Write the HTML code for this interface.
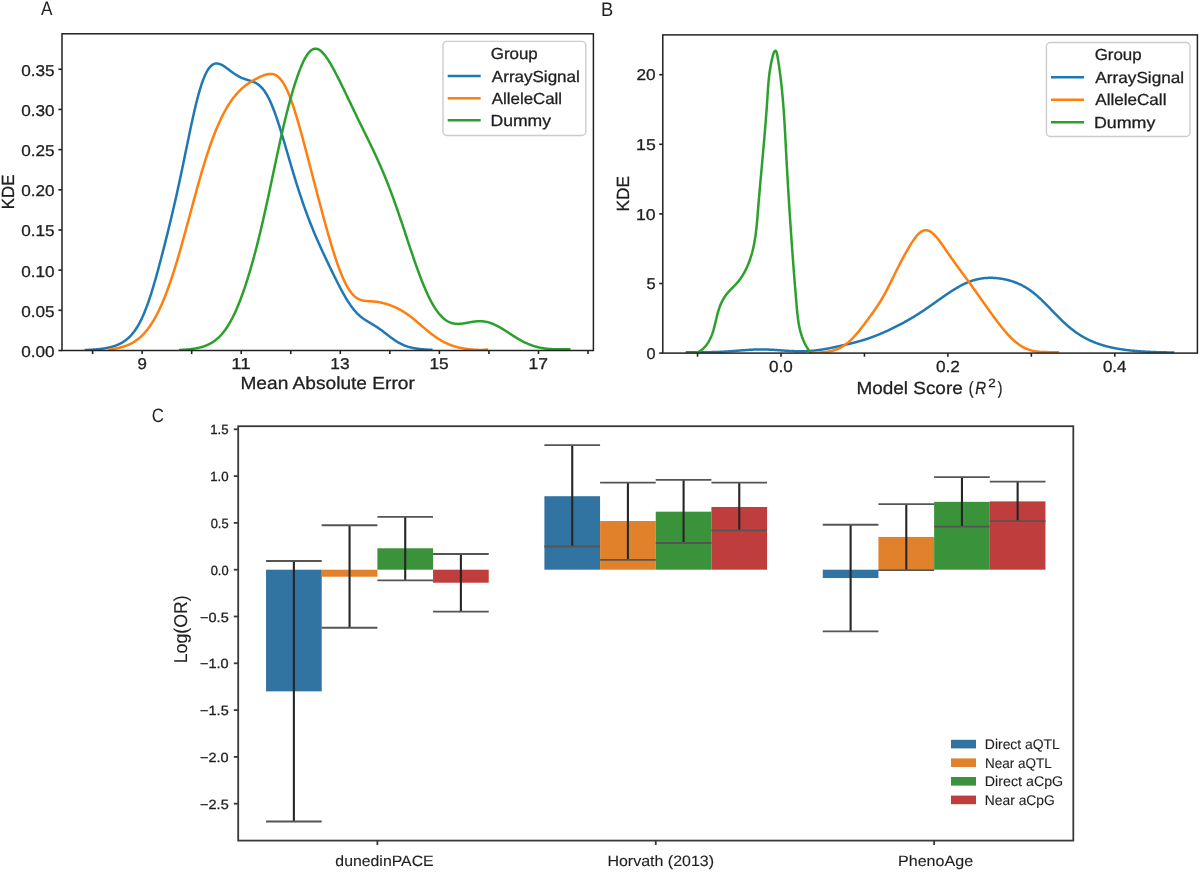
<!DOCTYPE html>
<html><head><meta charset="utf-8"><title>Figure</title>
<style>
html,body{margin:0;padding:0;background:#fff;}
body{width:1200px;height:872px;overflow:hidden;}
svg{display:block;font-family:"Liberation Sans", sans-serif;will-change:transform;text-rendering:geometricPrecision;}
</style></head>
<body>
<svg width="1200" height="872" viewBox="0 0 1200 872">
<rect width="1200" height="872" fill="#fff"/>
<clipPath id="ca"><rect x="62.0" y="33.8" width="531.4" height="316.7"/></clipPath>
<g clip-path="url(#ca)">
<path d="M84.60,350.05 L85.10,350.03 L85.60,350.02 L86.10,350.00 L86.60,349.98 L87.10,349.95 L87.60,349.93 L88.10,349.91 L88.60,349.89 L89.10,349.86 L89.60,349.84 L90.10,349.81 L90.60,349.78 L91.10,349.75 L91.60,349.72 L92.10,349.69 L92.60,349.66 L93.10,349.62 L93.60,349.59 L94.10,349.55 L94.60,349.52 L95.10,349.48 L95.60,349.44 L96.10,349.39 L96.60,349.35 L97.10,349.30 L97.60,349.26 L98.10,349.21 L98.60,349.15 L99.10,349.10 L99.60,349.05 L100.10,348.99 L100.60,348.93 L101.10,348.87 L101.60,348.80 L102.10,348.74 L102.60,348.67 L103.10,348.59 L103.60,348.52 L104.10,348.44 L104.60,348.36 L105.10,348.28 L105.60,348.19 L106.10,348.10 L106.60,348.01 L107.10,347.91 L107.60,347.81 L108.10,347.70 L108.60,347.60 L109.10,347.48 L109.60,347.37 L110.10,347.25 L110.60,347.12 L111.10,346.99 L111.60,346.86 L112.10,346.72 L112.60,346.57 L113.10,346.42 L113.60,346.27 L114.10,346.10 L114.60,345.94 L115.10,345.76 L115.60,345.58 L116.10,345.40 L116.60,345.20 L117.10,345.00 L117.60,344.80 L118.10,344.58 L118.60,344.36 L119.10,344.13 L119.60,343.89 L120.10,343.64 L120.60,343.38 L121.10,343.12 L121.60,342.84 L122.10,342.55 L122.60,342.26 L123.10,341.95 L123.60,341.63 L124.10,341.30 L124.60,340.96 L125.10,340.61 L125.60,340.24 L126.10,339.86 L126.60,339.47 L127.10,339.06 L127.60,338.64 L128.10,338.21 L128.60,337.75 L129.10,337.29 L129.60,336.80 L130.10,336.30 L130.60,335.78 L131.10,335.24 L131.60,334.69 L132.10,334.11 L132.60,333.52 L133.10,332.91 L133.60,332.27 L134.10,331.61 L134.60,330.94 L135.10,330.23 L135.60,329.51 L136.10,328.76 L136.60,327.99 L137.10,327.20 L137.60,326.38 L138.10,325.53 L138.60,324.66 L139.10,323.76 L139.60,322.83 L140.10,321.88 L140.60,320.90 L141.10,319.89 L141.60,318.86 L142.10,317.79 L142.60,316.70 L143.10,315.58 L143.60,314.43 L144.10,313.25 L144.60,312.05 L145.10,310.81 L145.60,309.55 L146.10,308.25 L146.60,306.93 L147.10,305.58 L147.60,304.20 L148.10,302.80 L148.60,301.36 L149.10,299.90 L149.60,298.42 L150.10,296.91 L150.60,295.37 L151.10,293.81 L151.60,292.22 L152.10,290.61 L152.60,288.98 L153.10,287.32 L153.60,285.65 L154.10,283.95 L154.60,282.23 L155.10,280.50 L155.60,278.74 L156.10,276.97 L156.60,275.18 L157.10,273.38 L157.60,271.56 L158.10,269.73 L158.60,267.88 L159.10,266.02 L159.60,264.15 L160.10,262.26 L160.60,260.37 L161.10,258.46 L161.60,256.54 L162.10,254.62 L162.60,252.68 L163.10,250.74 L163.60,248.79 L164.10,246.82 L164.60,244.85 L165.10,242.88 L165.60,240.89 L166.10,238.90 L166.60,236.89 L167.10,234.88 L167.60,232.86 L168.10,230.83 L168.60,228.80 L169.10,226.75 L169.60,224.69 L170.10,222.63 L170.60,220.55 L171.10,218.46 L171.60,216.36 L172.10,214.25 L172.60,212.13 L173.10,209.99 L173.60,207.84 L174.10,205.68 L174.60,203.51 L175.10,201.32 L175.60,199.12 L176.10,196.90 L176.60,194.67 L177.10,192.42 L177.60,190.16 L178.10,187.88 L178.60,185.59 L179.10,183.29 L179.60,180.97 L180.10,178.64 L180.60,176.29 L181.10,173.93 L181.60,171.56 L182.10,169.18 L182.60,166.79 L183.10,164.39 L183.60,161.98 L184.10,159.57 L184.60,157.14 L185.10,154.72 L185.60,152.29 L186.10,149.86 L186.60,147.43 L187.10,145.00 L187.60,142.57 L188.10,140.15 L188.60,137.74 L189.10,135.34 L189.60,132.94 L190.10,130.57 L190.60,128.20 L191.10,125.86 L191.60,123.53 L192.10,121.23 L192.60,118.95 L193.10,116.69 L193.60,114.47 L194.10,112.27 L194.60,110.11 L195.10,107.98 L195.60,105.89 L196.10,103.83 L196.60,101.82 L197.10,99.84 L197.60,97.92 L198.10,96.03 L198.60,94.20 L199.10,92.41 L199.60,90.67 L200.10,88.98 L200.60,87.34 L201.10,85.76 L201.60,84.23 L202.10,82.76 L202.60,81.34 L203.10,79.98 L203.60,78.67 L204.10,77.42 L204.60,76.23 L205.10,75.10 L205.60,74.02 L206.10,73.00 L206.60,72.04 L207.10,71.13 L207.60,70.28 L208.10,69.48 L208.60,68.74 L209.10,68.05 L209.60,67.42 L210.10,66.84 L210.60,66.31 L211.10,65.83 L211.60,65.40 L212.10,65.01 L212.60,64.67 L213.10,64.38 L213.60,64.13 L214.10,63.93 L214.60,63.76 L215.10,63.64 L215.60,63.55 L216.10,63.50 L216.60,63.48 L217.10,63.49 L217.60,63.54 L218.10,63.62 L218.60,63.72 L219.10,63.86 L219.60,64.01 L220.10,64.20 L220.60,64.40 L221.10,64.62 L221.60,64.87 L222.10,65.13 L222.60,65.41 L223.10,65.70 L223.60,66.00 L224.10,66.32 L224.60,66.65 L225.10,66.99 L225.60,67.34 L226.10,67.69 L226.60,68.05 L227.10,68.42 L227.60,68.79 L228.10,69.16 L228.60,69.53 L229.10,69.91 L229.60,70.28 L230.10,70.66 L230.60,71.03 L231.10,71.40 L231.60,71.77 L232.10,72.14 L232.60,72.50 L233.10,72.85 L233.60,73.20 L234.10,73.55 L234.60,73.88 L235.10,74.22 L235.60,74.54 L236.10,74.85 L236.60,75.16 L237.10,75.46 L237.60,75.75 L238.10,76.04 L238.60,76.31 L239.10,76.58 L239.60,76.84 L240.10,77.09 L240.60,77.33 L241.10,77.56 L241.60,77.78 L242.10,78.00 L242.60,78.20 L243.10,78.41 L243.60,78.60 L244.10,78.79 L244.60,78.97 L245.10,79.14 L245.60,79.31 L246.10,79.48 L246.60,79.64 L247.10,79.80 L247.60,79.96 L248.10,80.11 L248.60,80.27 L249.10,80.42 L249.60,80.58 L250.10,80.74 L250.60,80.90 L251.10,81.06 L251.60,81.24 L252.10,81.41 L252.60,81.60 L253.10,81.79 L253.60,82.00 L254.10,82.21 L254.60,82.44 L255.10,82.68 L255.60,82.93 L256.10,83.20 L256.60,83.49 L257.10,83.79 L257.60,84.12 L258.10,84.46 L258.60,84.83 L259.10,85.22 L259.60,85.63 L260.10,86.06 L260.60,86.53 L261.10,87.02 L261.60,87.53 L262.10,88.08 L262.60,88.65 L263.10,89.25 L263.60,89.89 L264.10,90.55 L264.60,91.25 L265.10,91.98 L265.60,92.74 L266.10,93.54 L266.60,94.36 L267.10,95.23 L267.60,96.12 L268.10,97.05 L268.60,98.02 L269.10,99.01 L269.60,100.04 L270.10,101.11 L270.60,102.21 L271.10,103.34 L271.60,104.50 L272.10,105.69 L272.60,106.92 L273.10,108.18 L273.60,109.46 L274.10,110.78 L274.60,112.12 L275.10,113.49 L275.60,114.89 L276.10,116.32 L276.60,117.77 L277.10,119.24 L277.60,120.74 L278.10,122.26 L278.60,123.79 L279.10,125.35 L279.60,126.93 L280.10,128.52 L280.60,130.13 L281.10,131.76 L281.60,133.40 L282.10,135.05 L282.60,136.71 L283.10,138.38 L283.60,140.06 L284.10,141.75 L284.60,143.45 L285.10,145.15 L285.60,146.86 L286.10,148.57 L286.60,150.28 L287.10,152.00 L287.60,153.71 L288.10,155.43 L288.60,157.14 L289.10,158.85 L289.60,160.56 L290.10,162.26 L290.60,163.96 L291.10,165.66 L291.60,167.35 L292.10,169.03 L292.60,170.70 L293.10,172.37 L293.60,174.03 L294.10,175.68 L294.60,177.32 L295.10,178.95 L295.60,180.58 L296.10,182.19 L296.60,183.79 L297.10,185.38 L297.60,186.96 L298.10,188.52 L298.60,190.08 L299.10,191.62 L299.60,193.15 L300.10,194.67 L300.60,196.18 L301.10,197.68 L301.60,199.16 L302.10,200.63 L302.60,202.09 L303.10,203.54 L303.60,204.97 L304.10,206.39 L304.60,207.80 L305.10,209.20 L305.60,210.59 L306.10,211.96 L306.60,213.32 L307.10,214.67 L307.60,216.01 L308.10,217.34 L308.60,218.65 L309.10,219.96 L309.60,221.25 L310.10,222.53 L310.60,223.80 L311.10,225.06 L311.60,226.31 L312.10,227.55 L312.60,228.78 L313.10,230.00 L313.60,231.22 L314.10,232.42 L314.60,233.61 L315.10,234.79 L315.60,235.97 L316.10,237.14 L316.60,238.30 L317.10,239.45 L317.60,240.59 L318.10,241.73 L318.60,242.86 L319.10,243.98 L319.60,245.10 L320.10,246.21 L320.60,247.31 L321.10,248.41 L321.60,249.50 L322.10,250.59 L322.60,251.68 L323.10,252.75 L323.60,253.83 L324.10,254.90 L324.60,255.97 L325.10,257.03 L325.60,258.09 L326.10,259.15 L326.60,260.20 L327.10,261.26 L327.60,262.30 L328.10,263.35 L328.60,264.39 L329.10,265.44 L329.60,266.48 L330.10,267.51 L330.60,268.55 L331.10,269.58 L331.60,270.61 L332.10,271.64 L332.60,272.66 L333.10,273.68 L333.60,274.70 L334.10,275.72 L334.60,276.73 L335.10,277.74 L335.60,278.75 L336.10,279.75 L336.60,280.75 L337.10,281.75 L337.60,282.73 L338.10,283.72 L338.60,284.70 L339.10,285.67 L339.60,286.63 L340.10,287.59 L340.60,288.54 L341.10,289.49 L341.60,290.42 L342.10,291.35 L342.60,292.27 L343.10,293.18 L343.60,294.08 L344.10,294.96 L344.60,295.84 L345.10,296.71 L345.60,297.56 L346.10,298.40 L346.60,299.23 L347.10,300.05 L347.60,300.85 L348.10,301.64 L348.60,302.42 L349.10,303.18 L349.60,303.93 L350.10,304.66 L350.60,305.37 L351.10,306.08 L351.60,306.76 L352.10,307.43 L352.60,308.09 L353.10,308.73 L353.60,309.35 L354.10,309.96 L354.60,310.55 L355.10,311.13 L355.60,311.69 L356.10,312.24 L356.60,312.77 L357.10,313.28 L357.60,313.79 L358.10,314.27 L358.60,314.75 L359.10,315.21 L359.60,315.65 L360.10,316.09 L360.60,316.51 L361.10,316.92 L361.60,317.32 L362.10,317.70 L362.60,318.08 L363.10,318.45 L363.60,318.80 L364.10,319.15 L364.60,319.50 L365.10,319.83 L365.60,320.16 L366.10,320.48 L366.60,320.80 L367.10,321.11 L367.60,321.41 L368.10,321.72 L368.60,322.02 L369.10,322.32 L369.60,322.61 L370.10,322.91 L370.60,323.21 L371.10,323.50 L371.60,323.80 L372.10,324.10 L372.60,324.39 L373.10,324.70 L373.60,325.00 L374.10,325.30 L374.60,325.61 L375.10,325.93 L375.60,326.24 L376.10,326.56 L376.60,326.89 L377.10,327.21 L377.60,327.55 L378.10,327.88 L378.60,328.23 L379.10,328.57 L379.60,328.92 L380.10,329.28 L380.60,329.64 L381.10,330.00 L381.60,330.36 L382.10,330.73 L382.60,331.11 L383.10,331.48 L383.60,331.86 L384.10,332.25 L384.60,332.63 L385.10,333.02 L385.60,333.40 L386.10,333.79 L386.60,334.18 L387.10,334.57 L387.60,334.96 L388.10,335.34 L388.60,335.73 L389.10,336.12 L389.60,336.50 L390.10,336.88 L390.60,337.26 L391.10,337.63 L391.60,338.00 L392.10,338.37 L392.60,338.73 L393.10,339.09 L393.60,339.44 L394.10,339.79 L394.60,340.13 L395.10,340.47 L395.60,340.80 L396.10,341.12 L396.60,341.44 L397.10,341.75 L397.60,342.05 L398.10,342.35 L398.60,342.64 L399.10,342.92 L399.60,343.19 L400.10,343.46 L400.60,343.72 L401.10,343.97 L401.60,344.21 L402.10,344.45 L402.60,344.68 L403.10,344.90 L403.60,345.12 L404.10,345.32 L404.60,345.52 L405.10,345.72 L405.60,345.90 L406.10,346.08 L406.60,346.26 L407.10,346.42 L407.60,346.58 L408.10,346.74 L408.60,346.88 L409.10,347.03 L409.60,347.16 L410.10,347.29 L410.60,347.42 L411.10,347.54 L411.60,347.65 L412.10,347.77 L412.60,347.87 L413.10,347.97 L413.60,348.07 L414.10,348.16 L414.60,348.25 L415.10,348.34 L415.60,348.42 L416.10,348.50 L416.60,348.57 L417.10,348.65 L417.60,348.72 L418.10,348.78 L418.60,348.84 L419.10,348.91 L419.60,348.96 L420.10,349.02 L420.60,349.07 L421.10,349.13 L421.60,349.17 L422.10,349.22 L422.60,349.27 L423.10,349.31 L423.60,349.35 L424.10,349.39 L424.60,349.43 L425.10,349.47 L425.60,349.51 L426.10,349.54 L426.60,349.57 L427.10,349.61 L427.60,349.64 L428.10,349.67 L428.60,349.70 L429.10,349.72 L429.60,349.75 L430.10,349.78 L430.60,349.80 L431.10,349.83 L431.60,349.85 L432.10,349.87 L432.60,349.89" fill="none" stroke="#1f77b4" stroke-width="2.5" stroke-linejoin="round" stroke-linecap="butt"/>
<path d="M108.00,349.47 L108.50,349.43 L109.00,349.37 L109.50,349.32 L110.00,349.27 L110.50,349.21 L111.00,349.15 L111.50,349.09 L112.00,349.02 L112.50,348.96 L113.00,348.89 L113.50,348.82 L114.00,348.74 L114.50,348.66 L115.00,348.58 L115.50,348.49 L116.00,348.41 L116.50,348.31 L117.00,348.22 L117.50,348.12 L118.00,348.02 L118.50,347.91 L119.00,347.80 L119.50,347.69 L120.00,347.57 L120.50,347.44 L121.00,347.31 L121.50,347.18 L122.00,347.04 L122.50,346.90 L123.00,346.75 L123.50,346.60 L124.00,346.44 L124.50,346.28 L125.00,346.11 L125.50,345.93 L126.00,345.75 L126.50,345.56 L127.00,345.37 L127.50,345.17 L128.00,344.96 L128.50,344.74 L129.00,344.52 L129.50,344.29 L130.00,344.05 L130.50,343.81 L131.00,343.56 L131.50,343.30 L132.00,343.03 L132.50,342.75 L133.00,342.46 L133.50,342.17 L134.00,341.87 L134.50,341.55 L135.00,341.23 L135.50,340.90 L136.00,340.55 L136.50,340.20 L137.00,339.84 L137.50,339.46 L138.00,339.08 L138.50,338.68 L139.00,338.28 L139.50,337.86 L140.00,337.43 L140.50,336.98 L141.00,336.53 L141.50,336.06 L142.00,335.58 L142.50,335.09 L143.00,334.59 L143.50,334.07 L144.00,333.53 L144.50,332.99 L145.00,332.43 L145.50,331.86 L146.00,331.27 L146.50,330.66 L147.00,330.05 L147.50,329.41 L148.00,328.76 L148.50,328.10 L149.00,327.42 L149.50,326.73 L150.00,326.02 L150.50,325.29 L151.00,324.54 L151.50,323.78 L152.00,323.01 L152.50,322.21 L153.00,321.40 L153.50,320.57 L154.00,319.73 L154.50,318.86 L155.00,317.98 L155.50,317.08 L156.00,316.16 L156.50,315.23 L157.00,314.28 L157.50,313.30 L158.00,312.31 L158.50,311.30 L159.00,310.28 L159.50,309.23 L160.00,308.16 L160.50,307.08 L161.00,305.98 L161.50,304.85 L162.00,303.71 L162.50,302.55 L163.00,301.37 L163.50,300.18 L164.00,298.96 L164.50,297.72 L165.00,296.47 L165.50,295.20 L166.00,293.90 L166.50,292.59 L167.00,291.26 L167.50,289.92 L168.00,288.55 L168.50,287.16 L169.00,285.76 L169.50,284.34 L170.00,282.90 L170.50,281.45 L171.00,279.97 L171.50,278.48 L172.00,276.98 L172.50,275.45 L173.00,273.91 L173.50,272.35 L174.00,270.78 L174.50,269.19 L175.00,267.59 L175.50,265.97 L176.00,264.34 L176.50,262.69 L177.00,261.03 L177.50,259.35 L178.00,257.67 L178.50,255.97 L179.00,254.25 L179.50,252.53 L180.00,250.79 L180.50,249.04 L181.00,247.28 L181.50,245.52 L182.00,243.74 L182.50,241.95 L183.00,240.16 L183.50,238.35 L184.00,236.54 L184.50,234.72 L185.00,232.90 L185.50,231.07 L186.00,229.23 L186.50,227.39 L187.00,225.55 L187.50,223.70 L188.00,221.85 L188.50,219.99 L189.00,218.14 L189.50,216.28 L190.00,214.42 L190.50,212.57 L191.00,210.71 L191.50,208.85 L192.00,207.00 L192.50,205.15 L193.00,203.30 L193.50,201.45 L194.00,199.61 L194.50,197.78 L195.00,195.95 L195.50,194.12 L196.00,192.30 L196.50,190.49 L197.00,188.69 L197.50,186.89 L198.00,185.10 L198.50,183.33 L199.00,181.56 L199.50,179.80 L200.00,178.05 L200.50,176.32 L201.00,174.59 L201.50,172.88 L202.00,171.18 L202.50,169.49 L203.00,167.82 L203.50,166.16 L204.00,164.52 L204.50,162.89 L205.00,161.27 L205.50,159.67 L206.00,158.09 L206.50,156.52 L207.00,154.97 L207.50,153.43 L208.00,151.91 L208.50,150.41 L209.00,148.93 L209.50,147.46 L210.00,146.01 L210.50,144.58 L211.00,143.16 L211.50,141.77 L212.00,140.39 L212.50,139.03 L213.00,137.69 L213.50,136.36 L214.00,135.06 L214.50,133.77 L215.00,132.50 L215.50,131.25 L216.00,130.02 L216.50,128.81 L217.00,127.61 L217.50,126.44 L218.00,125.28 L218.50,124.14 L219.00,123.01 L219.50,121.91 L220.00,120.82 L220.50,119.75 L221.00,118.70 L221.50,117.67 L222.00,116.65 L222.50,115.65 L223.00,114.67 L223.50,113.71 L224.00,112.76 L224.50,111.83 L225.00,110.91 L225.50,110.01 L226.00,109.13 L226.50,108.26 L227.00,107.41 L227.50,106.58 L228.00,105.76 L228.50,104.95 L229.00,104.17 L229.50,103.39 L230.00,102.63 L230.50,101.89 L231.00,101.16 L231.50,100.45 L232.00,99.75 L232.50,99.06 L233.00,98.39 L233.50,97.73 L234.00,97.08 L234.50,96.45 L235.00,95.83 L235.50,95.23 L236.00,94.64 L236.50,94.06 L237.00,93.49 L237.50,92.94 L238.00,92.39 L238.50,91.86 L239.00,91.35 L239.50,90.84 L240.00,90.34 L240.50,89.86 L241.00,89.39 L241.50,88.92 L242.00,88.47 L242.50,88.03 L243.00,87.60 L243.50,87.17 L244.00,86.76 L244.50,86.36 L245.00,85.96 L245.50,85.57 L246.00,85.19 L246.50,84.82 L247.00,84.46 L247.50,84.10 L248.00,83.76 L248.50,83.41 L249.00,83.08 L249.50,82.75 L250.00,82.43 L250.50,82.11 L251.00,81.80 L251.50,81.49 L252.00,81.19 L252.50,80.89 L253.00,80.60 L253.50,80.31 L254.00,80.02 L254.50,79.74 L255.00,79.47 L255.50,79.19 L256.00,78.93 L256.50,78.66 L257.00,78.40 L257.50,78.14 L258.00,77.89 L258.50,77.64 L259.00,77.39 L259.50,77.15 L260.00,76.92 L260.50,76.68 L261.00,76.46 L261.50,76.24 L262.00,76.02 L262.50,75.81 L263.00,75.61 L263.50,75.42 L264.00,75.23 L264.50,75.05 L265.00,74.89 L265.50,74.73 L266.00,74.58 L266.50,74.44 L267.00,74.32 L267.50,74.21 L268.00,74.11 L268.50,74.03 L269.00,73.97 L269.50,73.92 L270.00,73.89 L270.50,73.88 L271.00,73.89 L271.50,73.92 L272.00,73.97 L272.50,74.04 L273.00,74.14 L273.50,74.27 L274.00,74.42 L274.50,74.59 L275.00,74.80 L275.50,75.03 L276.00,75.30 L276.50,75.59 L277.00,75.92 L277.50,76.28 L278.00,76.67 L278.50,77.10 L279.00,77.56 L279.50,78.05 L280.00,78.59 L280.50,79.15 L281.00,79.76 L281.50,80.40 L282.00,81.08 L282.50,81.80 L283.00,82.56 L283.50,83.36 L284.00,84.19 L284.50,85.06 L285.00,85.97 L285.50,86.92 L286.00,87.91 L286.50,88.93 L287.00,89.99 L287.50,91.09 L288.00,92.23 L288.50,93.40 L289.00,94.61 L289.50,95.85 L290.00,97.13 L290.50,98.44 L291.00,99.79 L291.50,101.16 L292.00,102.57 L292.50,104.01 L293.00,105.48 L293.50,106.97 L294.00,108.50 L294.50,110.05 L295.00,111.62 L295.50,113.23 L296.00,114.85 L296.50,116.50 L297.00,118.17 L297.50,119.86 L298.00,121.57 L298.50,123.29 L299.00,125.04 L299.50,126.80 L300.00,128.58 L300.50,130.37 L301.00,132.18 L301.50,134.00 L302.00,135.83 L302.50,137.67 L303.00,139.52 L303.50,141.38 L304.00,143.25 L304.50,145.13 L305.00,147.01 L305.50,148.90 L306.00,150.80 L306.50,152.70 L307.00,154.61 L307.50,156.52 L308.00,158.43 L308.50,160.35 L309.00,162.27 L309.50,164.19 L310.00,166.11 L310.50,168.03 L311.00,169.95 L311.50,171.88 L312.00,173.80 L312.50,175.72 L313.00,177.64 L313.50,179.56 L314.00,181.48 L314.50,183.40 L315.00,185.32 L315.50,187.23 L316.00,189.14 L316.50,191.05 L317.00,192.95 L317.50,194.85 L318.00,196.75 L318.50,198.65 L319.00,200.54 L319.50,202.42 L320.00,204.30 L320.50,206.18 L321.00,208.05 L321.50,209.91 L322.00,211.77 L322.50,213.63 L323.00,215.47 L323.50,217.31 L324.00,219.14 L324.50,220.97 L325.00,222.78 L325.50,224.59 L326.00,226.39 L326.50,228.18 L327.00,229.96 L327.50,231.73 L328.00,233.48 L328.50,235.23 L329.00,236.96 L329.50,238.68 L330.00,240.39 L330.50,242.08 L331.00,243.76 L331.50,245.43 L332.00,247.08 L332.50,248.71 L333.00,250.32 L333.50,251.92 L334.00,253.50 L334.50,255.06 L335.00,256.60 L335.50,258.13 L336.00,259.63 L336.50,261.11 L337.00,262.56 L337.50,264.00 L338.00,265.41 L338.50,266.80 L339.00,268.16 L339.50,269.50 L340.00,270.81 L340.50,272.10 L341.00,273.36 L341.50,274.59 L342.00,275.80 L342.50,276.98 L343.00,278.12 L343.50,279.24 L344.00,280.33 L344.50,281.40 L345.00,282.43 L345.50,283.43 L346.00,284.40 L346.50,285.34 L347.00,286.24 L347.50,287.12 L348.00,287.97 L348.50,288.78 L349.00,289.57 L349.50,290.32 L350.00,291.05 L350.50,291.74 L351.00,292.40 L351.50,293.03 L352.00,293.63 L352.50,294.21 L353.00,294.75 L353.50,295.26 L354.00,295.75 L354.50,296.21 L355.00,296.64 L355.50,297.05 L356.00,297.43 L356.50,297.79 L357.00,298.12 L357.50,298.43 L358.00,298.71 L358.50,298.98 L359.00,299.22 L359.50,299.44 L360.00,299.65 L360.50,299.83 L361.00,300.01 L361.50,300.16 L362.00,300.30 L362.50,300.42 L363.00,300.54 L363.50,300.64 L364.00,300.73 L364.50,300.81 L365.00,300.88 L365.50,300.94 L366.00,300.99 L366.50,301.04 L367.00,301.09 L367.50,301.12 L368.00,301.16 L368.50,301.19 L369.00,301.22 L369.50,301.25 L370.00,301.28 L370.50,301.31 L371.00,301.33 L371.50,301.36 L372.00,301.39 L372.50,301.43 L373.00,301.46 L373.50,301.50 L374.00,301.54 L374.50,301.59 L375.00,301.64 L375.50,301.69 L376.00,301.75 L376.50,301.81 L377.00,301.87 L377.50,301.94 L378.00,302.02 L378.50,302.10 L379.00,302.19 L379.50,302.28 L380.00,302.37 L380.50,302.47 L381.00,302.58 L381.50,302.68 L382.00,302.80 L382.50,302.92 L383.00,303.04 L383.50,303.17 L384.00,303.30 L384.50,303.44 L385.00,303.58 L385.50,303.72 L386.00,303.87 L386.50,304.02 L387.00,304.18 L387.50,304.34 L388.00,304.51 L388.50,304.68 L389.00,304.85 L389.50,305.02 L390.00,305.20 L390.50,305.39 L391.00,305.58 L391.50,305.77 L392.00,305.96 L392.50,306.16 L393.00,306.37 L393.50,306.58 L394.00,306.79 L394.50,307.01 L395.00,307.23 L395.50,307.45 L396.00,307.68 L396.50,307.92 L397.00,308.16 L397.50,308.40 L398.00,308.65 L398.50,308.90 L399.00,309.16 L399.50,309.43 L400.00,309.70 L400.50,309.97 L401.00,310.25 L401.50,310.54 L402.00,310.83 L402.50,311.12 L403.00,311.43 L403.50,311.73 L404.00,312.05 L404.50,312.36 L405.00,312.69 L405.50,313.02 L406.00,313.35 L406.50,313.69 L407.00,314.04 L407.50,314.39 L408.00,314.74 L408.50,315.10 L409.00,315.47 L409.50,315.84 L410.00,316.21 L410.50,316.59 L411.00,316.97 L411.50,317.36 L412.00,317.75 L412.50,318.15 L413.00,318.55 L413.50,318.95 L414.00,319.36 L414.50,319.77 L415.00,320.18 L415.50,320.59 L416.00,321.01 L416.50,321.43 L417.00,321.85 L417.50,322.28 L418.00,322.70 L418.50,323.13 L419.00,323.55 L419.50,323.98 L420.00,324.41 L420.50,324.84 L421.00,325.27 L421.50,325.70 L422.00,326.13 L422.50,326.56 L423.00,326.98 L423.50,327.41 L424.00,327.84 L424.50,328.26 L425.00,328.68 L425.50,329.11 L426.00,329.52 L426.50,329.94 L427.00,330.36 L427.50,330.77 L428.00,331.18 L428.50,331.58 L429.00,331.99 L429.50,332.39 L430.00,332.78 L430.50,333.18 L431.00,333.57 L431.50,333.95 L432.00,334.33 L432.50,334.71 L433.00,335.08 L433.50,335.45 L434.00,335.82 L434.50,336.18 L435.00,336.53 L435.50,336.88 L436.00,337.23 L436.50,337.57 L437.00,337.90 L437.50,338.23 L438.00,338.56 L438.50,338.88 L439.00,339.19 L439.50,339.50 L440.00,339.81 L440.50,340.11 L441.00,340.40 L441.50,340.69 L442.00,340.97 L442.50,341.25 L443.00,341.52 L443.50,341.79 L444.00,342.05 L444.50,342.31 L445.00,342.56 L445.50,342.80 L446.00,343.04 L446.50,343.28 L447.00,343.50 L447.50,343.73 L448.00,343.95 L448.50,344.16 L449.00,344.37 L449.50,344.57 L450.00,344.77 L450.50,344.96 L451.00,345.15 L451.50,345.34 L452.00,345.51 L452.50,345.69 L453.00,345.86 L453.50,346.02 L454.00,346.18 L454.50,346.34 L455.00,346.49 L455.50,346.64 L456.00,346.78 L456.50,346.92 L457.00,347.05 L457.50,347.18 L458.00,347.31 L458.50,347.43 L459.00,347.55 L459.50,347.66 L460.00,347.77 L460.50,347.88 L461.00,347.99 L461.50,348.09 L462.00,348.18 L462.50,348.28 L463.00,348.37 L463.50,348.46 L464.00,348.54 L464.50,348.62 L465.00,348.70 L465.50,348.78 L466.00,348.85 L466.50,348.92 L467.00,348.99 L467.50,349.05 L468.00,349.11 L468.50,349.17 L469.00,349.23 L469.50,349.29 L470.00,349.34 L470.50,349.39 L471.00,349.44 L471.50,349.48 L472.00,349.53 L472.50,349.57 L473.00,349.61 L473.50,349.65 L474.00,349.68 L474.50,349.71 L475.00,349.74 L475.50,349.77 L476.00,349.80 L476.50,349.82 L477.00,349.84 L477.50,349.86 L478.00,349.88 L478.50,349.89 L479.00,349.90 L479.50,349.91 L480.00,349.91 L480.50,349.91 L481.00,349.91 L481.50,349.90 L482.00,349.89 L482.50,349.88 L483.00,349.86 L483.50,349.83 L484.00,349.80 L484.50,349.76 L485.00,349.72 L485.50,349.67 L486.00,349.61 L486.50,349.55 L487.00,349.48 L487.50,349.39 L488.00,349.30" fill="none" stroke="#ff7f0e" stroke-width="2.5" stroke-linejoin="round" stroke-linecap="butt"/>
<path d="M179.00,350.04 L179.50,350.02 L180.00,349.99 L180.50,349.97 L181.00,349.95 L181.50,349.92 L182.00,349.89 L182.50,349.86 L183.00,349.83 L183.50,349.80 L184.00,349.77 L184.50,349.73 L185.00,349.70 L185.50,349.66 L186.00,349.62 L186.50,349.58 L187.00,349.54 L187.50,349.49 L188.00,349.45 L188.50,349.40 L189.00,349.35 L189.50,349.29 L190.00,349.24 L190.50,349.18 L191.00,349.12 L191.50,349.06 L192.00,348.99 L192.50,348.93 L193.00,348.86 L193.50,348.78 L194.00,348.71 L194.50,348.63 L195.00,348.54 L195.50,348.46 L196.00,348.37 L196.50,348.27 L197.00,348.17 L197.50,348.07 L198.00,347.97 L198.50,347.86 L199.00,347.74 L199.50,347.62 L200.00,347.50 L200.50,347.37 L201.00,347.23 L201.50,347.10 L202.00,346.95 L202.50,346.80 L203.00,346.64 L203.50,346.48 L204.00,346.31 L204.50,346.14 L205.00,345.95 L205.50,345.76 L206.00,345.57 L206.50,345.36 L207.00,345.15 L207.50,344.93 L208.00,344.70 L208.50,344.47 L209.00,344.22 L209.50,343.97 L210.00,343.71 L210.50,343.44 L211.00,343.15 L211.50,342.86 L212.00,342.56 L212.50,342.25 L213.00,341.92 L213.50,341.59 L214.00,341.24 L214.50,340.88 L215.00,340.51 L215.50,340.13 L216.00,339.74 L216.50,339.33 L217.00,338.91 L217.50,338.47 L218.00,338.03 L218.50,337.56 L219.00,337.09 L219.50,336.59 L220.00,336.09 L220.50,335.56 L221.00,335.03 L221.50,334.47 L222.00,333.90 L222.50,333.32 L223.00,332.71 L223.50,332.09 L224.00,331.46 L224.50,330.80 L225.00,330.13 L225.50,329.44 L226.00,328.73 L226.50,328.00 L227.00,327.25 L227.50,326.49 L228.00,325.70 L228.50,324.90 L229.00,324.07 L229.50,323.23 L230.00,322.37 L230.50,321.48 L231.00,320.58 L231.50,319.66 L232.00,318.71 L232.50,317.75 L233.00,316.76 L233.50,315.75 L234.00,314.73 L234.50,313.68 L235.00,312.61 L235.50,311.52 L236.00,310.41 L236.50,309.27 L237.00,308.12 L237.50,306.94 L238.00,305.75 L238.50,304.53 L239.00,303.29 L239.50,302.04 L240.00,300.76 L240.50,299.45 L241.00,298.13 L241.50,296.79 L242.00,295.43 L242.50,294.04 L243.00,292.64 L243.50,291.22 L244.00,289.77 L244.50,288.31 L245.00,286.82 L245.50,285.32 L246.00,283.79 L246.50,282.24 L247.00,280.68 L247.50,279.09 L248.00,277.49 L248.50,275.86 L249.00,274.22 L249.50,272.56 L250.00,270.87 L250.50,269.17 L251.00,267.45 L251.50,265.71 L252.00,263.95 L252.50,262.17 L253.00,260.37 L253.50,258.55 L254.00,256.71 L254.50,254.85 L255.00,252.98 L255.50,251.08 L256.00,249.17 L256.50,247.24 L257.00,245.29 L257.50,243.32 L258.00,241.33 L258.50,239.32 L259.00,237.29 L259.50,235.25 L260.00,233.19 L260.50,231.10 L261.00,229.01 L261.50,226.89 L262.00,224.76 L262.50,222.61 L263.00,220.44 L263.50,218.26 L264.00,216.06 L264.50,213.84 L265.00,211.61 L265.50,209.37 L266.00,207.11 L266.50,204.84 L267.00,202.56 L267.50,200.26 L268.00,197.95 L268.50,195.64 L269.00,193.31 L269.50,190.97 L270.00,188.63 L270.50,186.28 L271.00,183.93 L271.50,181.57 L272.00,179.20 L272.50,176.84 L273.00,174.47 L273.50,172.10 L274.00,169.74 L274.50,167.37 L275.00,165.01 L275.50,162.65 L276.00,160.30 L276.50,157.95 L277.00,155.62 L277.50,153.29 L278.00,150.97 L278.50,148.66 L279.00,146.37 L279.50,144.09 L280.00,141.82 L280.50,139.57 L281.00,137.33 L281.50,135.12 L282.00,132.91 L282.50,130.73 L283.00,128.57 L283.50,126.43 L284.00,124.31 L284.50,122.20 L285.00,120.13 L285.50,118.07 L286.00,116.03 L286.50,114.02 L287.00,112.04 L287.50,110.07 L288.00,108.13 L288.50,106.22 L289.00,104.32 L289.50,102.46 L290.00,100.62 L290.50,98.80 L291.00,97.01 L291.50,95.24 L292.00,93.50 L292.50,91.79 L293.00,90.10 L293.50,88.44 L294.00,86.80 L294.50,85.20 L295.00,83.61 L295.50,82.06 L296.00,80.53 L296.50,79.03 L297.00,77.56 L297.50,76.12 L298.00,74.71 L298.50,73.33 L299.00,71.98 L299.50,70.66 L300.00,69.37 L300.50,68.11 L301.00,66.89 L301.50,65.70 L302.00,64.54 L302.50,63.43 L303.00,62.34 L303.50,61.30 L304.00,60.29 L304.50,59.31 L305.00,58.38 L305.50,57.49 L306.00,56.64 L306.50,55.83 L307.00,55.06 L307.50,54.33 L308.00,53.65 L308.50,53.01 L309.00,52.41 L309.50,51.86 L310.00,51.35 L310.50,50.88 L311.00,50.47 L311.50,50.09 L312.00,49.76 L312.50,49.48 L313.00,49.24 L313.50,49.04 L314.00,48.89 L314.50,48.78 L315.00,48.72 L315.50,48.70 L316.00,48.72 L316.50,48.78 L317.00,48.89 L317.50,49.03 L318.00,49.22 L318.50,49.44 L319.00,49.70 L319.50,50.00 L320.00,50.33 L320.50,50.70 L321.00,51.10 L321.50,51.54 L322.00,52.00 L322.50,52.50 L323.00,53.03 L323.50,53.58 L324.00,54.16 L324.50,54.77 L325.00,55.40 L325.50,56.06 L326.00,56.74 L326.50,57.44 L327.00,58.17 L327.50,58.91 L328.00,59.67 L328.50,60.45 L329.00,61.25 L329.50,62.06 L330.00,62.89 L330.50,63.73 L331.00,64.59 L331.50,65.46 L332.00,66.34 L332.50,67.23 L333.00,68.14 L333.50,69.05 L334.00,69.97 L334.50,70.91 L335.00,71.85 L335.50,72.80 L336.00,73.76 L336.50,74.72 L337.00,75.70 L337.50,76.67 L338.00,77.66 L338.50,78.65 L339.00,79.64 L339.50,80.65 L340.00,81.65 L340.50,82.66 L341.00,83.67 L341.50,84.69 L342.00,85.71 L342.50,86.74 L343.00,87.76 L343.50,88.79 L344.00,89.82 L344.50,90.86 L345.00,91.90 L345.50,92.93 L346.00,93.97 L346.50,95.02 L347.00,96.06 L347.50,97.10 L348.00,98.15 L348.50,99.19 L349.00,100.24 L349.50,101.28 L350.00,102.33 L350.50,103.37 L351.00,104.42 L351.50,105.46 L352.00,106.51 L352.50,107.55 L353.00,108.59 L353.50,109.64 L354.00,110.68 L354.50,111.72 L355.00,112.76 L355.50,113.79 L356.00,114.83 L356.50,115.87 L357.00,116.90 L357.50,117.93 L358.00,118.96 L358.50,119.99 L359.00,121.02 L359.50,122.05 L360.00,123.08 L360.50,124.10 L361.00,125.13 L361.50,126.15 L362.00,127.17 L362.50,128.19 L363.00,129.21 L363.50,130.23 L364.00,131.25 L364.50,132.27 L365.00,133.29 L365.50,134.31 L366.00,135.33 L366.50,136.35 L367.00,137.37 L367.50,138.40 L368.00,139.42 L368.50,140.44 L369.00,141.47 L369.50,142.50 L370.00,143.53 L370.50,144.56 L371.00,145.60 L371.50,146.64 L372.00,147.68 L372.50,148.73 L373.00,149.77 L373.50,150.83 L374.00,151.89 L374.50,152.95 L375.00,154.02 L375.50,155.09 L376.00,156.17 L376.50,157.25 L377.00,158.34 L377.50,159.44 L378.00,160.54 L378.50,161.65 L379.00,162.76 L379.50,163.89 L380.00,165.02 L380.50,166.16 L381.00,167.30 L381.50,168.46 L382.00,169.62 L382.50,170.79 L383.00,171.97 L383.50,173.16 L384.00,174.36 L384.50,175.57 L385.00,176.78 L385.50,178.01 L386.00,179.24 L386.50,180.49 L387.00,181.74 L387.50,183.01 L388.00,184.28 L388.50,185.56 L389.00,186.86 L389.50,188.16 L390.00,189.47 L390.50,190.79 L391.00,192.12 L391.50,193.46 L392.00,194.81 L392.50,196.17 L393.00,197.54 L393.50,198.91 L394.00,200.30 L394.50,201.69 L395.00,203.10 L395.50,204.51 L396.00,205.92 L396.50,207.35 L397.00,208.78 L397.50,210.23 L398.00,211.67 L398.50,213.13 L399.00,214.59 L399.50,216.06 L400.00,217.53 L400.50,219.01 L401.00,220.49 L401.50,221.97 L402.00,223.47 L402.50,224.96 L403.00,226.46 L403.50,227.96 L404.00,229.46 L404.50,230.97 L405.00,232.48 L405.50,233.99 L406.00,235.49 L406.50,237.00 L407.00,238.51 L407.50,240.02 L408.00,241.53 L408.50,243.03 L409.00,244.54 L409.50,246.04 L410.00,247.53 L410.50,249.03 L411.00,250.52 L411.50,252.00 L412.00,253.48 L412.50,254.96 L413.00,256.42 L413.50,257.88 L414.00,259.34 L414.50,260.78 L415.00,262.22 L415.50,263.65 L416.00,265.07 L416.50,266.48 L417.00,267.88 L417.50,269.27 L418.00,270.64 L418.50,272.01 L419.00,273.36 L419.50,274.70 L420.00,276.03 L420.50,277.35 L421.00,278.65 L421.50,279.94 L422.00,281.21 L422.50,282.47 L423.00,283.71 L423.50,284.94 L424.00,286.15 L424.50,287.34 L425.00,288.52 L425.50,289.68 L426.00,290.82 L426.50,291.94 L427.00,293.05 L427.50,294.14 L428.00,295.21 L428.50,296.26 L429.00,297.29 L429.50,298.30 L430.00,299.30 L430.50,300.27 L431.00,301.22 L431.50,302.16 L432.00,303.07 L432.50,303.96 L433.00,304.83 L433.50,305.69 L434.00,306.52 L434.50,307.33 L435.00,308.12 L435.50,308.89 L436.00,309.63 L436.50,310.36 L437.00,311.07 L437.50,311.75 L438.00,312.42 L438.50,313.06 L439.00,313.68 L439.50,314.29 L440.00,314.87 L440.50,315.43 L441.00,315.97 L441.50,316.49 L442.00,316.99 L442.50,317.47 L443.00,317.93 L443.50,318.37 L444.00,318.80 L444.50,319.20 L445.00,319.58 L445.50,319.95 L446.00,320.29 L446.50,320.62 L447.00,320.93 L447.50,321.22 L448.00,321.50 L448.50,321.76 L449.00,322.00 L449.50,322.22 L450.00,322.43 L450.50,322.62 L451.00,322.80 L451.50,322.96 L452.00,323.11 L452.50,323.24 L453.00,323.36 L453.50,323.47 L454.00,323.56 L454.50,323.64 L455.00,323.71 L455.50,323.77 L456.00,323.81 L456.50,323.85 L457.00,323.87 L457.50,323.88 L458.00,323.88 L458.50,323.88 L459.00,323.86 L459.50,323.84 L460.00,323.81 L460.50,323.77 L461.00,323.73 L461.50,323.68 L462.00,323.62 L462.50,323.56 L463.00,323.49 L463.50,323.42 L464.00,323.34 L464.50,323.26 L465.00,323.18 L465.50,323.09 L466.00,323.00 L466.50,322.91 L467.00,322.82 L467.50,322.73 L468.00,322.64 L468.50,322.54 L469.00,322.45 L469.50,322.36 L470.00,322.27 L470.50,322.18 L471.00,322.09 L471.50,322.00 L472.00,321.92 L472.50,321.84 L473.00,321.76 L473.50,321.69 L474.00,321.62 L474.50,321.55 L475.00,321.49 L475.50,321.44 L476.00,321.39 L476.50,321.34 L477.00,321.30 L477.50,321.27 L478.00,321.24 L478.50,321.22 L479.00,321.21 L479.50,321.20 L480.00,321.20 L480.50,321.20 L481.00,321.22 L481.50,321.24 L482.00,321.27 L482.50,321.31 L483.00,321.35 L483.50,321.40 L484.00,321.46 L484.50,321.53 L485.00,321.61 L485.50,321.69 L486.00,321.79 L486.50,321.89 L487.00,322.00 L487.50,322.11 L488.00,322.24 L488.50,322.37 L489.00,322.52 L489.50,322.67 L490.00,322.82 L490.50,322.99 L491.00,323.16 L491.50,323.34 L492.00,323.53 L492.50,323.73 L493.00,323.93 L493.50,324.14 L494.00,324.36 L494.50,324.58 L495.00,324.81 L495.50,325.05 L496.00,325.29 L496.50,325.54 L497.00,325.79 L497.50,326.05 L498.00,326.32 L498.50,326.59 L499.00,326.87 L499.50,327.15 L500.00,327.43 L500.50,327.72 L501.00,328.02 L501.50,328.31 L502.00,328.62 L502.50,328.92 L503.00,329.23 L503.50,329.54 L504.00,329.85 L504.50,330.17 L505.00,330.49 L505.50,330.80 L506.00,331.13 L506.50,331.45 L507.00,331.77 L507.50,332.10 L508.00,332.42 L508.50,332.75 L509.00,333.08 L509.50,333.40 L510.00,333.73 L510.50,334.05 L511.00,334.38 L511.50,334.70 L512.00,335.03 L512.50,335.35 L513.00,335.67 L513.50,335.99 L514.00,336.30 L514.50,336.62 L515.00,336.93 L515.50,337.24 L516.00,337.55 L516.50,337.85 L517.00,338.16 L517.50,338.45 L518.00,338.75 L518.50,339.04 L519.00,339.33 L519.50,339.62 L520.00,339.90 L520.50,340.18 L521.00,340.46 L521.50,340.73 L522.00,340.99 L522.50,341.26 L523.00,341.52 L523.50,341.77 L524.00,342.02 L524.50,342.27 L525.00,342.51 L525.50,342.75 L526.00,342.98 L526.50,343.21 L527.00,343.43 L527.50,343.65 L528.00,343.87 L528.50,344.08 L529.00,344.28 L529.50,344.48 L530.00,344.68 L530.50,344.87 L531.00,345.06 L531.50,345.24 L532.00,345.42 L532.50,345.59 L533.00,345.76 L533.50,345.92 L534.00,346.08 L534.50,346.24 L535.00,346.39 L535.50,346.53 L536.00,346.67 L536.50,346.81 L537.00,346.94 L537.50,347.07 L538.00,347.20 L538.50,347.32 L539.00,347.43 L539.50,347.54 L540.00,347.65 L540.50,347.76 L541.00,347.86 L541.50,347.95 L542.00,348.04 L542.50,348.13 L543.00,348.21 L543.50,348.29 L544.00,348.37 L544.50,348.44 L545.00,348.51 L545.50,348.58 L546.00,348.64 L546.50,348.70 L547.00,348.76 L547.50,348.81 L548.00,348.86 L548.50,348.91 L549.00,348.95 L549.50,348.99 L550.00,349.03 L550.50,349.06 L551.00,349.09 L551.50,349.12 L552.00,349.15 L552.50,349.18 L553.00,349.20 L553.50,349.22 L554.00,349.24 L554.50,349.25 L555.00,349.26 L555.50,349.28 L556.00,349.29 L556.50,349.29 L557.00,349.30 L557.50,349.31 L558.00,349.31 L558.50,349.31 L559.00,349.32 L559.50,349.32 L560.00,349.32 L560.50,349.32 L561.00,349.31 L561.50,349.31 L562.00,349.31 L562.50,349.31 L563.00,349.30 L563.50,349.30 L564.00,349.30 L564.50,349.30 L565.00,349.29 L565.50,349.29 L566.00,349.29 L566.50,349.29 L567.00,349.29 L567.50,349.28 L568.00,349.28 L568.50,349.29 L569.00,349.29 L569.50,349.29 L570.00,349.29 L570.50,349.30" fill="none" stroke="#2ca02c" stroke-width="2.5" stroke-linejoin="round" stroke-linecap="butt"/>
</g>
<rect x="443.0" y="41.4" width="142.8" height="94.1" rx="4" fill="#fff" fill-opacity="0.8" stroke="#cccccc" stroke-width="1.4"/>
<text x="490.75" y="59.00" font-size="16.0" textLength="46.96" lengthAdjust="spacingAndGlyphs" fill="#1f1f1f" stroke="#1f1f1f" stroke-width="0.3">Group</text>
<line x1="447.70" y1="76.10" x2="480.70" y2="76.10" stroke="#1f77b4" stroke-width="2.5" />
<text x="491.87" y="81.60" font-size="16.0" textLength="87.97" lengthAdjust="spacingAndGlyphs" fill="#1f1f1f" stroke="#1f1f1f" stroke-width="0.3">ArraySignal</text>
<line x1="447.70" y1="98.20" x2="480.70" y2="98.20" stroke="#ff7f0e" stroke-width="2.5" />
<text x="491.87" y="103.70" font-size="16.0" textLength="70.26" lengthAdjust="spacingAndGlyphs" fill="#1f1f1f" stroke="#1f1f1f" stroke-width="0.3">AlleleCall</text>
<line x1="447.70" y1="120.30" x2="480.70" y2="120.30" stroke="#2ca02c" stroke-width="2.5" />
<text x="490.46" y="125.80" font-size="16.0" textLength="60.58" lengthAdjust="spacingAndGlyphs" fill="#1f1f1f" stroke="#1f1f1f" stroke-width="0.3">Dummy</text>
<rect x="62.0" y="33.8" width="531.4" height="316.7" fill="none" stroke="#222" stroke-width="1.5"/>
<line x1="58.40" y1="350.50" x2="62.00" y2="350.50" stroke="#222" stroke-width="1.6" />
<text x="21.23" y="356.90" font-size="15.6" textLength="33.34" lengthAdjust="spacingAndGlyphs" fill="#1f1f1f" stroke="#1f1f1f" stroke-width="0.3">0.00</text>
<line x1="58.40" y1="310.32" x2="62.00" y2="310.32" stroke="#222" stroke-width="1.6" />
<text x="21.23" y="316.72" font-size="15.6" textLength="33.39" lengthAdjust="spacingAndGlyphs" fill="#1f1f1f" stroke="#1f1f1f" stroke-width="0.3">0.05</text>
<line x1="58.40" y1="270.15" x2="62.00" y2="270.15" stroke="#222" stroke-width="1.6" />
<text x="21.23" y="276.55" font-size="15.6" textLength="33.34" lengthAdjust="spacingAndGlyphs" fill="#1f1f1f" stroke="#1f1f1f" stroke-width="0.3">0.10</text>
<line x1="58.40" y1="229.97" x2="62.00" y2="229.97" stroke="#222" stroke-width="1.6" />
<text x="21.23" y="236.37" font-size="15.6" textLength="33.39" lengthAdjust="spacingAndGlyphs" fill="#1f1f1f" stroke="#1f1f1f" stroke-width="0.3">0.15</text>
<line x1="58.40" y1="189.80" x2="62.00" y2="189.80" stroke="#222" stroke-width="1.6" />
<text x="21.23" y="196.20" font-size="15.6" textLength="33.34" lengthAdjust="spacingAndGlyphs" fill="#1f1f1f" stroke="#1f1f1f" stroke-width="0.3">0.20</text>
<line x1="58.40" y1="149.62" x2="62.00" y2="149.62" stroke="#222" stroke-width="1.6" />
<text x="21.23" y="156.03" font-size="15.6" textLength="33.39" lengthAdjust="spacingAndGlyphs" fill="#1f1f1f" stroke="#1f1f1f" stroke-width="0.3">0.25</text>
<line x1="58.40" y1="109.45" x2="62.00" y2="109.45" stroke="#222" stroke-width="1.6" />
<text x="21.23" y="115.85" font-size="15.6" textLength="33.34" lengthAdjust="spacingAndGlyphs" fill="#1f1f1f" stroke="#1f1f1f" stroke-width="0.3">0.30</text>
<line x1="58.40" y1="69.27" x2="62.00" y2="69.27" stroke="#222" stroke-width="1.6" />
<text x="21.23" y="75.67" font-size="15.6" textLength="33.39" lengthAdjust="spacingAndGlyphs" fill="#1f1f1f" stroke="#1f1f1f" stroke-width="0.3">0.35</text>
<line x1="92.60" y1="350.50" x2="92.60" y2="354.10" stroke="#222" stroke-width="1.6" />
<line x1="142.14" y1="350.50" x2="142.14" y2="354.10" stroke="#222" stroke-width="1.6" />
<text x="137.45" y="369.00" font-size="15.6" textLength="9.39" lengthAdjust="spacingAndGlyphs" fill="#1f1f1f" stroke="#1f1f1f" stroke-width="0.3">9</text>
<line x1="191.68" y1="350.50" x2="191.68" y2="354.10" stroke="#222" stroke-width="1.6" />
<line x1="241.22" y1="350.50" x2="241.22" y2="354.10" stroke="#222" stroke-width="1.6" />
<text x="231.29" y="369.00" font-size="15.6" textLength="19.38" lengthAdjust="spacingAndGlyphs" fill="#1f1f1f" stroke="#1f1f1f" stroke-width="0.3">11</text>
<line x1="290.76" y1="350.50" x2="290.76" y2="354.10" stroke="#222" stroke-width="1.6" />
<line x1="340.30" y1="350.50" x2="340.30" y2="354.10" stroke="#222" stroke-width="1.6" />
<text x="330.38" y="369.00" font-size="15.6" textLength="19.28" lengthAdjust="spacingAndGlyphs" fill="#1f1f1f" stroke="#1f1f1f" stroke-width="0.3">13</text>
<line x1="389.84" y1="350.50" x2="389.84" y2="354.10" stroke="#222" stroke-width="1.6" />
<line x1="439.38" y1="350.50" x2="439.38" y2="354.10" stroke="#222" stroke-width="1.6" />
<text x="429.46" y="369.00" font-size="15.6" textLength="19.24" lengthAdjust="spacingAndGlyphs" fill="#1f1f1f" stroke="#1f1f1f" stroke-width="0.3">15</text>
<line x1="488.92" y1="350.50" x2="488.92" y2="354.10" stroke="#222" stroke-width="1.6" />
<line x1="538.46" y1="350.50" x2="538.46" y2="354.10" stroke="#222" stroke-width="1.6" />
<text x="528.53" y="369.00" font-size="15.6" textLength="19.41" lengthAdjust="spacingAndGlyphs" fill="#1f1f1f" stroke="#1f1f1f" stroke-width="0.3">17</text>
<line x1="588.00" y1="350.50" x2="588.00" y2="354.10" stroke="#222" stroke-width="1.6" />
<text x="240.44" y="388.80" font-size="17.6" textLength="174.38" lengthAdjust="spacingAndGlyphs" fill="#1f1f1f" stroke="#1f1f1f" stroke-width="0.3">Mean Absolute Error</text>
<text transform="translate(14.30,0) rotate(-90)" x="-209.18" y="0" font-size="17.6" textLength="34.60" lengthAdjust="spacingAndGlyphs" fill="#1f1f1f" stroke="#1f1f1f" stroke-width="0.3">KDE</text>
<clipPath id="cb"><rect x="662.8" y="34.9" width="534.6000000000001" height="318.20000000000005"/></clipPath>
<g clip-path="url(#cb)">
<path d="M685.80,352.37 L686.30,352.36 L686.80,352.36 L687.30,352.36 L687.80,352.36 L688.30,352.36 L688.80,352.36 L689.30,352.36 L689.80,352.36 L690.30,352.36 L690.80,352.35 L691.30,352.35 L691.80,352.35 L692.30,352.35 L692.80,352.35 L693.30,352.35 L693.80,352.34 L694.30,352.34 L694.80,352.34 L695.30,352.34 L695.80,352.34 L696.30,352.33 L696.80,352.33 L697.30,352.33 L697.80,352.32 L698.30,352.32 L698.80,352.32 L699.30,352.31 L699.80,352.31 L700.30,352.30 L700.80,352.30 L701.30,352.30 L701.80,352.29 L702.30,352.29 L702.80,352.28 L703.30,352.27 L703.80,352.27 L704.30,352.26 L704.80,352.26 L705.30,352.25 L705.80,352.24 L706.30,352.23 L706.80,352.23 L707.30,352.22 L707.80,352.21 L708.30,352.20 L708.80,352.19 L709.30,352.18 L709.80,352.17 L710.30,352.16 L710.80,352.15 L711.30,352.14 L711.80,352.12 L712.30,352.11 L712.80,352.10 L713.30,352.08 L713.80,352.07 L714.30,352.06 L714.80,352.04 L715.30,352.02 L715.80,352.01 L716.30,351.99 L716.80,351.97 L717.30,351.96 L717.80,351.94 L718.30,351.92 L718.80,351.90 L719.30,351.88 L719.80,351.85 L720.30,351.83 L720.80,351.81 L721.30,351.79 L721.80,351.76 L722.30,351.74 L722.80,351.71 L723.30,351.69 L723.80,351.66 L724.30,351.63 L724.80,351.60 L725.30,351.57 L725.80,351.55 L726.30,351.52 L726.80,351.49 L727.30,351.45 L727.80,351.42 L728.30,351.39 L728.80,351.36 L729.30,351.32 L729.80,351.29 L730.30,351.25 L730.80,351.22 L731.30,351.18 L731.80,351.15 L732.30,351.11 L732.80,351.07 L733.30,351.04 L733.80,351.00 L734.30,350.96 L734.80,350.92 L735.30,350.88 L735.80,350.84 L736.30,350.80 L736.80,350.76 L737.30,350.72 L737.80,350.68 L738.30,350.64 L738.80,350.60 L739.30,350.56 L739.80,350.52 L740.30,350.48 L740.80,350.45 L741.30,350.41 L741.80,350.37 L742.30,350.33 L742.80,350.29 L743.30,350.25 L743.80,350.21 L744.30,350.17 L744.80,350.14 L745.30,350.10 L745.80,350.06 L746.30,350.03 L746.80,349.99 L747.30,349.96 L747.80,349.93 L748.30,349.89 L748.80,349.86 L749.30,349.83 L749.80,349.80 L750.30,349.77 L750.80,349.75 L751.30,349.72 L751.80,349.69 L752.30,349.67 L752.80,349.64 L753.30,349.62 L753.80,349.60 L754.30,349.58 L754.80,349.56 L755.30,349.55 L755.80,349.53 L756.30,349.52 L756.80,349.50 L757.30,349.49 L757.80,349.48 L758.30,349.47 L758.80,349.46 L759.30,349.46 L759.80,349.45 L760.30,349.45 L760.80,349.45 L761.30,349.45 L761.80,349.45 L762.30,349.45 L762.80,349.46 L763.30,349.46 L763.80,349.47 L764.30,349.48 L764.80,349.49 L765.30,349.50 L765.80,349.51 L766.30,349.52 L766.80,349.54 L767.30,349.56 L767.80,349.57 L768.30,349.59 L768.80,349.61 L769.30,349.63 L769.80,349.66 L770.30,349.68 L770.80,349.70 L771.30,349.73 L771.80,349.76 L772.30,349.78 L772.80,349.81 L773.30,349.84 L773.80,349.87 L774.30,349.90 L774.80,349.93 L775.30,349.97 L775.80,350.00 L776.30,350.03 L776.80,350.06 L777.30,350.10 L777.80,350.13 L778.30,350.17 L778.80,350.20 L779.30,350.24 L779.80,350.27 L780.30,350.31 L780.80,350.34 L781.30,350.38 L781.80,350.42 L782.30,350.45 L782.80,350.49 L783.30,350.52 L783.80,350.56 L784.30,350.59 L784.80,350.63 L785.30,350.66 L785.80,350.69 L786.30,350.73 L786.80,350.76 L787.30,350.79 L787.80,350.82 L788.30,350.85 L788.80,350.88 L789.30,350.91 L789.80,350.94 L790.30,350.96 L790.80,350.99 L791.30,351.01 L791.80,351.04 L792.30,351.06 L792.80,351.08 L793.30,351.10 L793.80,351.12 L794.30,351.14 L794.80,351.16 L795.30,351.18 L795.80,351.19 L796.30,351.20 L796.80,351.22 L797.30,351.23 L797.80,351.24 L798.30,351.24 L798.80,351.25 L799.30,351.25 L799.80,351.26 L800.30,351.26 L800.80,351.26 L801.30,351.26 L801.80,351.25 L802.30,351.25 L802.80,351.24 L803.30,351.23 L803.80,351.22 L804.30,351.21 L804.80,351.20 L805.30,351.18 L805.80,351.16 L806.30,351.14 L806.80,351.12 L807.30,351.10 L807.80,351.08 L808.30,351.05 L808.80,351.02 L809.30,350.99 L809.80,350.96 L810.30,350.92 L810.80,350.89 L811.30,350.85 L811.80,350.81 L812.30,350.76 L812.80,350.72 L813.30,350.67 L813.80,350.63 L814.30,350.58 L814.80,350.52 L815.30,350.47 L815.80,350.41 L816.30,350.36 L816.80,350.30 L817.30,350.24 L817.80,350.17 L818.30,350.11 L818.80,350.04 L819.30,349.97 L819.80,349.90 L820.30,349.83 L820.80,349.75 L821.30,349.68 L821.80,349.60 L822.30,349.52 L822.80,349.44 L823.30,349.36 L823.80,349.28 L824.30,349.19 L824.80,349.10 L825.30,349.02 L825.80,348.93 L826.30,348.84 L826.80,348.74 L827.30,348.65 L827.80,348.55 L828.30,348.46 L828.80,348.36 L829.30,348.26 L829.80,348.16 L830.30,348.06 L830.80,347.96 L831.30,347.86 L831.80,347.76 L832.30,347.65 L832.80,347.55 L833.30,347.44 L833.80,347.34 L834.30,347.23 L834.80,347.12 L835.30,347.02 L835.80,346.91 L836.30,346.80 L836.80,346.69 L837.30,346.58 L837.80,346.47 L838.30,346.36 L838.80,346.24 L839.30,346.13 L839.80,346.02 L840.30,345.91 L840.80,345.79 L841.30,345.68 L841.80,345.57 L842.30,345.45 L842.80,345.34 L843.30,345.22 L843.80,345.11 L844.30,344.99 L844.80,344.87 L845.30,344.76 L845.80,344.64 L846.30,344.52 L846.80,344.41 L847.30,344.29 L847.80,344.17 L848.30,344.05 L848.80,343.93 L849.30,343.81 L849.80,343.69 L850.30,343.57 L850.80,343.45 L851.30,343.32 L851.80,343.20 L852.30,343.07 L852.80,342.95 L853.30,342.82 L853.80,342.70 L854.30,342.57 L854.80,342.44 L855.30,342.31 L855.80,342.18 L856.30,342.05 L856.80,341.91 L857.30,341.78 L857.80,341.64 L858.30,341.51 L858.80,341.37 L859.30,341.23 L859.80,341.09 L860.30,340.95 L860.80,340.80 L861.30,340.66 L861.80,340.51 L862.30,340.36 L862.80,340.21 L863.30,340.06 L863.80,339.91 L864.30,339.75 L864.80,339.60 L865.30,339.44 L865.80,339.28 L866.30,339.12 L866.80,338.95 L867.30,338.79 L867.80,338.62 L868.30,338.45 L868.80,338.28 L869.30,338.11 L869.80,337.94 L870.30,337.76 L870.80,337.58 L871.30,337.40 L871.80,337.22 L872.30,337.04 L872.80,336.86 L873.30,336.67 L873.80,336.48 L874.30,336.29 L874.80,336.10 L875.30,335.91 L875.80,335.71 L876.30,335.51 L876.80,335.32 L877.30,335.12 L877.80,334.91 L878.30,334.71 L878.80,334.51 L879.30,334.30 L879.80,334.09 L880.30,333.88 L880.80,333.67 L881.30,333.46 L881.80,333.24 L882.30,333.03 L882.80,332.81 L883.30,332.59 L883.80,332.37 L884.30,332.15 L884.80,331.93 L885.30,331.71 L885.80,331.48 L886.30,331.25 L886.80,331.02 L887.30,330.80 L887.80,330.56 L888.30,330.33 L888.80,330.10 L889.30,329.86 L889.80,329.63 L890.30,329.39 L890.80,329.15 L891.30,328.91 L891.80,328.67 L892.30,328.43 L892.80,328.19 L893.30,327.94 L893.80,327.70 L894.30,327.45 L894.80,327.20 L895.30,326.95 L895.80,326.70 L896.30,326.45 L896.80,326.19 L897.30,325.94 L897.80,325.68 L898.30,325.43 L898.80,325.17 L899.30,324.91 L899.80,324.65 L900.30,324.38 L900.80,324.12 L901.30,323.85 L901.80,323.59 L902.30,323.32 L902.80,323.05 L903.30,322.78 L903.80,322.51 L904.30,322.23 L904.80,321.96 L905.30,321.68 L905.80,321.40 L906.30,321.12 L906.80,320.84 L907.30,320.56 L907.80,320.27 L908.30,319.99 L908.80,319.70 L909.30,319.41 L909.80,319.12 L910.30,318.83 L910.80,318.53 L911.30,318.24 L911.80,317.94 L912.30,317.64 L912.80,317.34 L913.30,317.04 L913.80,316.74 L914.30,316.43 L914.80,316.13 L915.30,315.82 L915.80,315.51 L916.30,315.20 L916.80,314.88 L917.30,314.57 L917.80,314.25 L918.30,313.93 L918.80,313.61 L919.30,313.29 L919.80,312.97 L920.30,312.65 L920.80,312.32 L921.30,311.99 L921.80,311.66 L922.30,311.33 L922.80,311.00 L923.30,310.67 L923.80,310.34 L924.30,310.00 L924.80,309.66 L925.30,309.32 L925.80,308.98 L926.30,308.64 L926.80,308.30 L927.30,307.96 L927.80,307.61 L928.30,307.27 L928.80,306.92 L929.30,306.58 L929.80,306.23 L930.30,305.88 L930.80,305.53 L931.30,305.18 L931.80,304.83 L932.30,304.47 L932.80,304.12 L933.30,303.77 L933.80,303.42 L934.30,303.06 L934.80,302.71 L935.30,302.35 L935.80,302.00 L936.30,301.64 L936.80,301.29 L937.30,300.93 L937.80,300.58 L938.30,300.22 L938.80,299.87 L939.30,299.52 L939.80,299.16 L940.30,298.81 L940.80,298.45 L941.30,298.10 L941.80,297.75 L942.30,297.40 L942.80,297.05 L943.30,296.70 L943.80,296.35 L944.30,296.01 L944.80,295.66 L945.30,295.31 L945.80,294.97 L946.30,294.63 L946.80,294.29 L947.30,293.95 L947.80,293.61 L948.30,293.28 L948.80,292.94 L949.30,292.61 L949.80,292.28 L950.30,291.95 L950.80,291.63 L951.30,291.30 L951.80,290.98 L952.30,290.66 L952.80,290.35 L953.30,290.03 L953.80,289.72 L954.30,289.41 L954.80,289.11 L955.30,288.81 L955.80,288.51 L956.30,288.21 L956.80,287.92 L957.30,287.63 L957.80,287.34 L958.30,287.06 L958.80,286.77 L959.30,286.50 L959.80,286.22 L960.30,285.96 L960.80,285.69 L961.30,285.43 L961.80,285.17 L962.30,284.91 L962.80,284.66 L963.30,284.42 L963.80,284.17 L964.30,283.94 L964.80,283.70 L965.30,283.47 L965.80,283.25 L966.30,283.02 L966.80,282.81 L967.30,282.59 L967.80,282.39 L968.30,282.18 L968.80,281.98 L969.30,281.79 L969.80,281.60 L970.30,281.41 L970.80,281.23 L971.30,281.05 L971.80,280.88 L972.30,280.72 L972.80,280.55 L973.30,280.40 L973.80,280.24 L974.30,280.10 L974.80,279.95 L975.30,279.81 L975.80,279.68 L976.30,279.55 L976.80,279.43 L977.30,279.31 L977.80,279.19 L978.30,279.08 L978.80,278.98 L979.30,278.88 L979.80,278.78 L980.30,278.69 L980.80,278.61 L981.30,278.53 L981.80,278.45 L982.30,278.38 L982.80,278.31 L983.30,278.25 L983.80,278.19 L984.30,278.13 L984.80,278.08 L985.30,278.04 L985.80,278.00 L986.30,277.96 L986.80,277.93 L987.30,277.90 L987.80,277.88 L988.30,277.86 L988.80,277.85 L989.30,277.84 L989.80,277.83 L990.30,277.83 L990.80,277.83 L991.30,277.83 L991.80,277.84 L992.30,277.86 L992.80,277.87 L993.30,277.90 L993.80,277.92 L994.30,277.95 L994.80,277.98 L995.30,278.02 L995.80,278.06 L996.30,278.10 L996.80,278.15 L997.30,278.20 L997.80,278.25 L998.30,278.31 L998.80,278.37 L999.30,278.43 L999.80,278.50 L1000.30,278.57 L1000.80,278.65 L1001.30,278.72 L1001.80,278.81 L1002.30,278.89 L1002.80,278.98 L1003.30,279.07 L1003.80,279.17 L1004.30,279.26 L1004.80,279.37 L1005.30,279.47 L1005.80,279.58 L1006.30,279.69 L1006.80,279.81 L1007.30,279.93 L1007.80,280.05 L1008.30,280.18 L1008.80,280.31 L1009.30,280.45 L1009.80,280.59 L1010.30,280.73 L1010.80,280.87 L1011.30,281.02 L1011.80,281.18 L1012.30,281.34 L1012.80,281.50 L1013.30,281.67 L1013.80,281.84 L1014.30,282.02 L1014.80,282.20 L1015.30,282.38 L1015.80,282.57 L1016.30,282.77 L1016.80,282.96 L1017.30,283.17 L1017.80,283.38 L1018.30,283.59 L1018.80,283.81 L1019.30,284.04 L1019.80,284.27 L1020.30,284.50 L1020.80,284.74 L1021.30,284.99 L1021.80,285.24 L1022.30,285.50 L1022.80,285.76 L1023.30,286.03 L1023.80,286.30 L1024.30,286.59 L1024.80,286.87 L1025.30,287.17 L1025.80,287.46 L1026.30,287.77 L1026.80,288.08 L1027.30,288.40 L1027.80,288.72 L1028.30,289.05 L1028.80,289.39 L1029.30,289.73 L1029.80,290.08 L1030.30,290.43 L1030.80,290.79 L1031.30,291.16 L1031.80,291.53 L1032.30,291.91 L1032.80,292.29 L1033.30,292.68 L1033.80,293.08 L1034.30,293.48 L1034.80,293.89 L1035.30,294.31 L1035.80,294.73 L1036.30,295.15 L1036.80,295.58 L1037.30,296.02 L1037.80,296.46 L1038.30,296.90 L1038.80,297.36 L1039.30,297.81 L1039.80,298.27 L1040.30,298.74 L1040.80,299.21 L1041.30,299.68 L1041.80,300.16 L1042.30,300.64 L1042.80,301.13 L1043.30,301.62 L1043.80,302.11 L1044.30,302.60 L1044.80,303.10 L1045.30,303.60 L1045.80,304.11 L1046.30,304.62 L1046.80,305.12 L1047.30,305.63 L1047.80,306.15 L1048.30,306.66 L1048.80,307.18 L1049.30,307.69 L1049.80,308.21 L1050.30,308.73 L1050.80,309.25 L1051.30,309.77 L1051.80,310.29 L1052.30,310.81 L1052.80,311.33 L1053.30,311.84 L1053.80,312.36 L1054.30,312.88 L1054.80,313.40 L1055.30,313.91 L1055.80,314.42 L1056.30,314.94 L1056.80,315.44 L1057.30,315.95 L1057.80,316.46 L1058.30,316.96 L1058.80,317.46 L1059.30,317.96 L1059.80,318.46 L1060.30,318.95 L1060.80,319.44 L1061.30,319.93 L1061.80,320.41 L1062.30,320.89 L1062.80,321.36 L1063.30,321.84 L1063.80,322.30 L1064.30,322.77 L1064.80,323.23 L1065.30,323.69 L1065.80,324.14 L1066.30,324.58 L1066.80,325.03 L1067.30,325.47 L1067.80,325.90 L1068.30,326.33 L1068.80,326.76 L1069.30,327.18 L1069.80,327.59 L1070.30,328.00 L1070.80,328.41 L1071.30,328.81 L1071.80,329.21 L1072.30,329.60 L1072.80,329.99 L1073.30,330.37 L1073.80,330.75 L1074.30,331.12 L1074.80,331.49 L1075.30,331.85 L1075.80,332.21 L1076.30,332.56 L1076.80,332.91 L1077.30,333.25 L1077.80,333.59 L1078.30,333.92 L1078.80,334.25 L1079.30,334.57 L1079.80,334.89 L1080.30,335.21 L1080.80,335.52 L1081.30,335.82 L1081.80,336.12 L1082.30,336.42 L1082.80,336.71 L1083.30,336.99 L1083.80,337.28 L1084.30,337.56 L1084.80,337.83 L1085.30,338.10 L1085.80,338.36 L1086.30,338.63 L1086.80,338.88 L1087.30,339.14 L1087.80,339.38 L1088.30,339.63 L1088.80,339.87 L1089.30,340.11 L1089.80,340.34 L1090.30,340.57 L1090.80,340.80 L1091.30,341.02 L1091.80,341.24 L1092.30,341.45 L1092.80,341.66 L1093.30,341.87 L1093.80,342.08 L1094.30,342.28 L1094.80,342.48 L1095.30,342.67 L1095.80,342.86 L1096.30,343.05 L1096.80,343.24 L1097.30,343.42 L1097.80,343.60 L1098.30,343.77 L1098.80,343.95 L1099.30,344.12 L1099.80,344.29 L1100.30,344.45 L1100.80,344.61 L1101.30,344.77 L1101.80,344.93 L1102.30,345.08 L1102.80,345.23 L1103.30,345.38 L1103.80,345.53 L1104.30,345.67 L1104.80,345.81 L1105.30,345.95 L1105.80,346.09 L1106.30,346.22 L1106.80,346.35 L1107.30,346.48 L1107.80,346.61 L1108.30,346.73 L1108.80,346.86 L1109.30,346.98 L1109.80,347.10 L1110.30,347.21 L1110.80,347.33 L1111.30,347.44 L1111.80,347.55 L1112.30,347.66 L1112.80,347.76 L1113.30,347.87 L1113.80,347.97 L1114.30,348.07 L1114.80,348.17 L1115.30,348.27 L1115.80,348.36 L1116.30,348.46 L1116.80,348.55 L1117.30,348.64 L1117.80,348.73 L1118.30,348.81 L1118.80,348.90 L1119.30,348.98 L1119.80,349.06 L1120.30,349.14 L1120.80,349.22 L1121.30,349.30 L1121.80,349.38 L1122.30,349.45 L1122.80,349.52 L1123.30,349.60 L1123.80,349.67 L1124.30,349.73 L1124.80,349.80 L1125.30,349.87 L1125.80,349.93 L1126.30,350.00 L1126.80,350.06 L1127.30,350.12 L1127.80,350.18 L1128.30,350.24 L1128.80,350.30 L1129.30,350.35 L1129.80,350.41 L1130.30,350.46 L1130.80,350.51 L1131.30,350.57 L1131.80,350.62 L1132.30,350.67 L1132.80,350.71 L1133.30,350.76 L1133.80,350.81 L1134.30,350.85 L1134.80,350.90 L1135.30,350.94 L1135.80,350.99 L1136.30,351.03 L1136.80,351.07 L1137.30,351.11 L1137.80,351.15 L1138.30,351.19 L1138.80,351.22 L1139.30,351.26 L1139.80,351.30 L1140.30,351.33 L1140.80,351.37 L1141.30,351.40 L1141.80,351.43 L1142.30,351.46 L1142.80,351.49 L1143.30,351.53 L1143.80,351.56 L1144.30,351.58 L1144.80,351.61 L1145.30,351.64 L1145.80,351.67 L1146.30,351.69 L1146.80,351.72 L1147.30,351.75 L1147.80,351.77 L1148.30,351.80 L1148.80,351.82 L1149.30,351.84 L1149.80,351.86 L1150.30,351.89 L1150.80,351.91 L1151.30,351.93 L1151.80,351.95 L1152.30,351.97 L1152.80,351.99 L1153.30,352.01 L1153.80,352.03 L1154.30,352.04 L1154.80,352.06 L1155.30,352.08 L1155.80,352.10 L1156.30,352.11 L1156.80,352.13 L1157.30,352.14 L1157.80,352.16 L1158.30,352.17 L1158.80,352.19 L1159.30,352.20 L1159.80,352.22 L1160.30,352.23 L1160.80,352.24 L1161.30,352.26 L1161.80,352.27 L1162.30,352.28 L1162.80,352.29 L1163.30,352.30 L1163.80,352.31 L1164.30,352.33 L1164.80,352.34 L1165.30,352.35 L1165.80,352.36 L1166.30,352.37 L1166.80,352.38 L1167.30,352.39 L1167.80,352.39 L1168.30,352.40 L1168.80,352.41 L1169.30,352.42 L1169.80,352.43 L1170.30,352.44 L1170.80,352.44 L1171.30,352.45 L1171.80,352.46 L1172.30,352.47 L1172.80,352.47 L1173.30,352.48 L1173.80,352.49 L1174.30,352.49" fill="none" stroke="#1f77b4" stroke-width="2.5" stroke-linejoin="round" stroke-linecap="butt"/>
<path d="M811.00,352.89 L811.50,352.88 L812.00,352.87 L812.50,352.86 L813.00,352.85 L813.50,352.84 L814.00,352.83 L814.50,352.81 L815.00,352.80 L815.50,352.78 L816.00,352.76 L816.50,352.74 L817.00,352.72 L817.50,352.70 L818.00,352.67 L818.50,352.65 L819.00,352.62 L819.50,352.59 L820.00,352.56 L820.50,352.53 L821.00,352.49 L821.50,352.45 L822.00,352.41 L822.50,352.37 L823.00,352.32 L823.50,352.27 L824.00,352.22 L824.50,352.17 L825.00,352.11 L825.50,352.05 L826.00,351.98 L826.50,351.91 L827.00,351.84 L827.50,351.76 L828.00,351.68 L828.50,351.59 L829.00,351.50 L829.50,351.40 L830.00,351.30 L830.50,351.20 L831.00,351.08 L831.50,350.97 L832.00,350.84 L832.50,350.71 L833.00,350.57 L833.50,350.43 L834.00,350.28 L834.50,350.12 L835.00,349.96 L835.50,349.79 L836.00,349.61 L836.50,349.42 L837.00,349.22 L837.50,349.02 L838.00,348.81 L838.50,348.59 L839.00,348.36 L839.50,348.12 L840.00,347.87 L840.50,347.61 L841.00,347.34 L841.50,347.06 L842.00,346.78 L842.50,346.48 L843.00,346.17 L843.50,345.86 L844.00,345.53 L844.50,345.19 L845.00,344.84 L845.50,344.48 L846.00,344.11 L846.50,343.73 L847.00,343.34 L847.50,342.94 L848.00,342.52 L848.50,342.10 L849.00,341.66 L849.50,341.22 L850.00,340.76 L850.50,340.30 L851.00,339.82 L851.50,339.34 L852.00,338.84 L852.50,338.33 L853.00,337.82 L853.50,337.29 L854.00,336.76 L854.50,336.22 L855.00,335.66 L855.50,335.10 L856.00,334.53 L856.50,333.96 L857.00,333.37 L857.50,332.78 L858.00,332.18 L858.50,331.58 L859.00,330.97 L859.50,330.35 L860.00,329.72 L860.50,329.10 L861.00,328.46 L861.50,327.82 L862.00,327.18 L862.50,326.53 L863.00,325.88 L863.50,325.23 L864.00,324.57 L864.50,323.91 L865.00,323.25 L865.50,322.58 L866.00,321.91 L866.50,321.24 L867.00,320.57 L867.50,319.90 L868.00,319.22 L868.50,318.54 L869.00,317.86 L869.50,317.18 L870.00,316.50 L870.50,315.81 L871.00,315.12 L871.50,314.43 L872.00,313.74 L872.50,313.04 L873.00,312.34 L873.50,311.64 L874.00,310.93 L874.50,310.22 L875.00,309.51 L875.50,308.78 L876.00,308.06 L876.50,307.32 L877.00,306.58 L877.50,305.83 L878.00,305.07 L878.50,304.31 L879.00,303.53 L879.50,302.75 L880.00,301.95 L880.50,301.14 L881.00,300.33 L881.50,299.50 L882.00,298.66 L882.50,297.81 L883.00,296.94 L883.50,296.07 L884.00,295.18 L884.50,294.28 L885.00,293.37 L885.50,292.45 L886.00,291.51 L886.50,290.57 L887.00,289.61 L887.50,288.65 L888.00,287.67 L888.50,286.69 L889.00,285.70 L889.50,284.70 L890.00,283.69 L890.50,282.69 L891.00,281.67 L891.50,280.65 L892.00,279.63 L892.50,278.61 L893.00,277.59 L893.50,276.57 L894.00,275.54 L894.50,274.52 L895.00,273.50 L895.50,272.49 L896.00,271.48 L896.50,270.47 L897.00,269.47 L897.50,268.47 L898.00,267.48 L898.50,266.49 L899.00,265.51 L899.50,264.54 L900.00,263.57 L900.50,262.61 L901.00,261.66 L901.50,260.71 L902.00,259.77 L902.50,258.83 L903.00,257.90 L903.50,256.98 L904.00,256.06 L904.50,255.15 L905.00,254.25 L905.50,253.35 L906.00,252.46 L906.50,251.57 L907.00,250.69 L907.50,249.82 L908.00,248.96 L908.50,248.10 L909.00,247.25 L909.50,246.41 L910.00,245.58 L910.50,244.77 L911.00,243.96 L911.50,243.16 L912.00,242.38 L912.50,241.62 L913.00,240.87 L913.50,240.13 L914.00,239.41 L914.50,238.71 L915.00,238.04 L915.50,237.38 L916.00,236.74 L916.50,236.13 L917.00,235.55 L917.50,234.98 L918.00,234.45 L918.50,233.95 L919.00,233.47 L919.50,233.02 L920.00,232.61 L920.50,232.22 L921.00,231.87 L921.50,231.55 L922.00,231.27 L922.50,231.02 L923.00,230.80 L923.50,230.62 L924.00,230.47 L924.50,230.36 L925.00,230.29 L925.50,230.25 L926.00,230.24 L926.50,230.27 L927.00,230.33 L927.50,230.43 L928.00,230.56 L928.50,230.73 L929.00,230.92 L929.50,231.15 L930.00,231.41 L930.50,231.70 L931.00,232.02 L931.50,232.37 L932.00,232.74 L932.50,233.15 L933.00,233.58 L933.50,234.03 L934.00,234.50 L934.50,235.00 L935.00,235.52 L935.50,236.06 L936.00,236.62 L936.50,237.20 L937.00,237.79 L937.50,238.40 L938.00,239.03 L938.50,239.66 L939.00,240.31 L939.50,240.98 L940.00,241.65 L940.50,242.33 L941.00,243.02 L941.50,243.72 L942.00,244.42 L942.50,245.13 L943.00,245.85 L943.50,246.57 L944.00,247.29 L944.50,248.02 L945.00,248.74 L945.50,249.47 L946.00,250.20 L946.50,250.93 L947.00,251.66 L947.50,252.39 L948.00,253.12 L948.50,253.85 L949.00,254.57 L949.50,255.30 L950.00,256.02 L950.50,256.74 L951.00,257.46 L951.50,258.17 L952.00,258.88 L952.50,259.59 L953.00,260.30 L953.50,261.00 L954.00,261.70 L954.50,262.40 L955.00,263.09 L955.50,263.79 L956.00,264.48 L956.50,265.17 L957.00,265.85 L957.50,266.54 L958.00,267.22 L958.50,267.90 L959.00,268.58 L959.50,269.26 L960.00,269.94 L960.50,270.61 L961.00,271.29 L961.50,271.96 L962.00,272.64 L962.50,273.31 L963.00,273.99 L963.50,274.66 L964.00,275.34 L964.50,276.02 L965.00,276.69 L965.50,277.37 L966.00,278.05 L966.50,278.73 L967.00,279.41 L967.50,280.09 L968.00,280.77 L968.50,281.46 L969.00,282.14 L969.50,282.83 L970.00,283.52 L970.50,284.21 L971.00,284.90 L971.50,285.59 L972.00,286.29 L972.50,286.98 L973.00,287.68 L973.50,288.38 L974.00,289.08 L974.50,289.78 L975.00,290.48 L975.50,291.18 L976.00,291.88 L976.50,292.59 L977.00,293.29 L977.50,294.00 L978.00,294.70 L978.50,295.41 L979.00,296.12 L979.50,296.83 L980.00,297.53 L980.50,298.24 L981.00,298.95 L981.50,299.66 L982.00,300.37 L982.50,301.07 L983.00,301.78 L983.50,302.49 L984.00,303.19 L984.50,303.90 L985.00,304.61 L985.50,305.31 L986.00,306.01 L986.50,306.72 L987.00,307.42 L987.50,308.12 L988.00,308.82 L988.50,309.52 L989.00,310.22 L989.50,310.91 L990.00,311.61 L990.50,312.30 L991.00,312.99 L991.50,313.68 L992.00,314.37 L992.50,315.06 L993.00,315.74 L993.50,316.42 L994.00,317.10 L994.50,317.78 L995.00,318.46 L995.50,319.13 L996.00,319.80 L996.50,320.47 L997.00,321.13 L997.50,321.79 L998.00,322.45 L998.50,323.10 L999.00,323.75 L999.50,324.40 L1000.00,325.04 L1000.50,325.68 L1001.00,326.31 L1001.50,326.94 L1002.00,327.56 L1002.50,328.18 L1003.00,328.80 L1003.50,329.41 L1004.00,330.01 L1004.50,330.61 L1005.00,331.20 L1005.50,331.78 L1006.00,332.36 L1006.50,332.93 L1007.00,333.50 L1007.50,334.06 L1008.00,334.61 L1008.50,335.15 L1009.00,335.69 L1009.50,336.22 L1010.00,336.74 L1010.50,337.25 L1011.00,337.75 L1011.50,338.25 L1012.00,338.73 L1012.50,339.21 L1013.00,339.68 L1013.50,340.14 L1014.00,340.59 L1014.50,341.03 L1015.00,341.47 L1015.50,341.89 L1016.00,342.30 L1016.50,342.71 L1017.00,343.10 L1017.50,343.48 L1018.00,343.86 L1018.50,344.23 L1019.00,344.58 L1019.50,344.93 L1020.00,345.26 L1020.50,345.59 L1021.00,345.91 L1021.50,346.21 L1022.00,346.51 L1022.50,346.80 L1023.00,347.08 L1023.50,347.35 L1024.00,347.61 L1024.50,347.86 L1025.00,348.11 L1025.50,348.34 L1026.00,348.56 L1026.50,348.78 L1027.00,348.99 L1027.50,349.19 L1028.00,349.38 L1028.50,349.56 L1029.00,349.74 L1029.50,349.91 L1030.00,350.06 L1030.50,350.22 L1031.00,350.36 L1031.50,350.50 L1032.00,350.63 L1032.50,350.75 L1033.00,350.87 L1033.50,350.98 L1034.00,351.08 L1034.50,351.18 L1035.00,351.27 L1035.50,351.36 L1036.00,351.44 L1036.50,351.51 L1037.00,351.58 L1037.50,351.64 L1038.00,351.70 L1038.50,351.76 L1039.00,351.81 L1039.50,351.85 L1040.00,351.89 L1040.50,351.93 L1041.00,351.96 L1041.50,351.99 L1042.00,352.01 L1042.50,352.03 L1043.00,352.05 L1043.50,352.07 L1044.00,352.08 L1044.50,352.09 L1045.00,352.10 L1045.50,352.11 L1046.00,352.12 L1046.50,352.12 L1047.00,352.12 L1047.50,352.13 L1048.00,352.13 L1048.50,352.13 L1049.00,352.13 L1049.50,352.13 L1050.00,352.13 L1050.50,352.14 L1051.00,352.14 L1051.50,352.14 L1052.00,352.14 L1052.50,352.15 L1053.00,352.15 L1053.50,352.16 L1054.00,352.17 L1054.50,352.18 L1055.00,352.19 L1055.50,352.20 L1056.00,352.21 L1056.50,352.22 L1057.00,352.24 L1057.50,352.26 L1058.00,352.27 L1058.50,352.29 L1059.00,352.31" fill="none" stroke="#ff7f0e" stroke-width="2.5" stroke-linejoin="round" stroke-linecap="butt"/>
<path d="M685.68,352.71 L686.32,352.87 L686.94,353.01 L687.55,353.10 L688.16,353.10 L688.76,353.10 L689.35,353.10 L689.94,353.10 L690.52,353.10 L691.09,353.10 L691.65,353.10 L692.21,353.10 L692.75,353.10 L693.29,353.10 L693.83,353.10 L694.35,353.10 L694.87,353.03 L695.38,352.91 L695.89,352.77 L696.39,352.61 L696.88,352.45 L697.36,352.26 L697.83,352.07 L698.30,351.86 L698.76,351.64 L699.22,351.40 L699.66,351.15 L700.10,350.89 L700.54,350.62 L700.96,350.34 L701.38,350.04 L701.79,349.74 L702.20,349.42 L702.60,349.10 L702.99,348.76 L703.37,348.41 L703.75,348.06 L704.12,347.69 L704.48,347.32 L704.84,346.94 L705.19,346.55 L705.53,346.15 L705.86,345.75 L706.19,345.34 L706.52,344.92 L706.83,344.50 L707.14,344.07 L707.44,343.63 L707.74,343.19 L708.03,342.74 L708.31,342.29 L708.58,341.83 L708.85,341.37 L709.12,340.91 L709.37,340.44 L709.62,339.97 L709.86,339.50 L710.10,339.02 L710.33,338.54 L710.55,338.06 L710.77,337.57 L710.98,337.09 L711.19,336.60 L711.39,336.10 L711.59,335.61 L711.78,335.11 L711.97,334.61 L712.15,334.11 L712.33,333.61 L712.50,333.10 L712.67,332.60 L712.84,332.09 L713.00,331.58 L713.16,331.07 L713.31,330.55 L713.46,330.04 L713.61,329.52 L713.76,329.00 L713.90,328.48 L714.04,327.96 L714.18,327.44 L714.32,326.92 L714.45,326.40 L714.59,325.87 L714.72,325.35 L714.85,324.82 L714.97,324.30 L715.10,323.77 L715.23,323.24 L715.35,322.71 L715.48,322.18 L715.60,321.66 L715.73,321.13 L715.85,320.60 L715.98,320.07 L716.10,319.54 L716.23,319.01 L716.35,318.48 L716.48,317.95 L716.61,317.43 L716.73,316.90 L716.87,316.37 L717.00,315.85 L717.13,315.32 L717.27,314.79 L717.40,314.27 L717.54,313.75 L717.68,313.22 L717.83,312.70 L717.98,312.18 L718.13,311.66 L718.28,311.14 L718.44,310.63 L718.60,310.11 L718.76,309.60 L718.93,309.09 L719.10,308.58 L719.28,308.07 L719.46,307.56 L719.64,307.05 L719.83,306.55 L720.02,306.05 L720.22,305.55 L720.42,305.05 L720.63,304.56 L720.84,304.07 L721.06,303.58 L721.28,303.09 L721.50,302.60 L721.73,302.12 L721.97,301.64 L722.21,301.17 L722.45,300.69 L722.70,300.22 L722.96,299.76 L723.22,299.29 L723.48,298.83 L723.75,298.37 L724.03,297.92 L724.31,297.47 L724.59,297.03 L724.88,296.58 L725.18,296.14 L725.48,295.71 L725.78,295.28 L726.09,294.85 L726.41,294.43 L726.73,294.01 L727.06,293.60 L727.39,293.19 L727.73,292.78 L728.07,292.38 L728.42,291.99 L728.77,291.59 L729.13,291.20 L729.49,290.81 L729.85,290.43 L730.22,290.04 L730.58,289.66 L730.95,289.28 L731.32,288.90 L731.70,288.52 L732.07,288.14 L732.45,287.77 L732.82,287.39 L733.20,287.01 L733.57,286.63 L733.94,286.25 L734.32,285.87 L734.69,285.49 L735.06,285.11 L735.43,284.72 L735.79,284.33 L736.16,283.94 L736.52,283.54 L736.87,283.15 L737.22,282.74 L737.57,282.34 L737.92,281.93 L738.26,281.51 L738.59,281.10 L738.93,280.68 L739.25,280.25 L739.58,279.82 L739.90,279.39 L740.22,278.96 L740.53,278.52 L740.84,278.08 L741.14,277.63 L741.44,277.18 L741.74,276.73 L742.03,276.28 L742.32,275.82 L742.61,275.37 L742.89,274.90 L743.17,274.44 L743.45,273.97 L743.72,273.51 L743.99,273.03 L744.25,272.56 L744.51,272.09 L744.77,271.61 L745.02,271.13 L745.27,270.65 L745.52,270.16 L745.76,269.68 L746.00,269.19 L746.24,268.70 L746.47,268.21 L746.70,267.72 L746.92,267.23 L747.15,266.74 L747.37,266.24 L747.58,265.74 L747.79,265.25 L748.00,264.75 L748.21,264.25 L748.41,263.75 L748.61,263.25 L748.81,262.75 L749.00,262.25 L749.19,261.74 L749.38,261.24 L749.56,260.74 L749.74,260.23 L749.92,259.73 L750.10,259.22 L750.27,258.71 L750.44,258.21 L750.61,257.70 L750.77,257.19 L750.93,256.68 L751.09,256.17 L751.24,255.66 L751.40,255.15 L751.55,254.64 L751.69,254.13 L751.84,253.62 L751.98,253.10 L752.12,252.59 L752.26,252.08 L752.39,251.56 L752.52,251.05 L752.65,250.53 L752.78,250.02 L752.91,249.50 L753.03,248.98 L753.15,248.47 L753.27,247.95 L753.39,247.43 L753.50,246.91 L753.61,246.39 L753.72,245.87 L753.83,245.35 L753.94,244.83 L754.04,244.31 L754.14,243.79 L754.24,243.27 L754.34,242.75 L754.44,242.22 L754.53,241.70 L754.62,241.18 L754.71,240.65 L754.80,240.13 L754.89,239.60 L754.97,239.08 L755.06,238.55 L755.14,238.03 L755.22,237.50 L755.30,236.98 L755.38,236.45 L755.45,235.92 L755.53,235.40 L755.60,234.87 L755.67,234.34 L755.74,233.81 L755.81,233.28 L755.88,232.75 L755.95,232.23 L756.01,231.70 L756.08,231.17 L756.14,230.64 L756.20,230.11 L756.26,229.58 L756.32,229.05 L756.38,228.51 L756.44,227.98 L756.49,227.45 L756.55,226.92 L756.60,226.39 L756.66,225.86 L756.71,225.32 L756.76,224.79 L756.81,224.26 L756.87,223.73 L756.92,223.19 L756.97,222.66 L757.01,222.13 L757.06,221.59 L757.11,221.06 L757.16,220.53 L757.20,219.99 L757.25,219.46 L757.29,218.93 L757.34,218.39 L757.38,217.86 L757.43,217.32 L757.47,216.79 L757.52,216.26 L757.56,215.72 L757.60,215.19 L757.65,214.65 L757.69,214.12 L757.73,213.58 L757.77,213.05 L757.82,212.51 L757.86,211.98 L757.90,211.44 L757.95,210.91 L757.99,210.37 L758.03,209.84 L758.07,209.30 L758.12,208.77 L758.16,208.23 L758.20,207.70 L758.25,207.16 L758.29,206.63 L758.33,206.09 L758.38,205.56 L758.42,205.02 L758.47,204.49 L758.51,203.95 L758.55,203.42 L758.60,202.89 L758.64,202.35 L758.69,201.82 L758.73,201.28 L758.78,200.75 L758.82,200.21 L758.87,199.68 L758.91,199.14 L758.96,198.61 L759.00,198.07 L759.05,197.54 L759.10,197.00 L759.14,196.47 L759.19,195.93 L759.23,195.40 L759.28,194.86 L759.32,194.33 L759.37,193.79 L759.42,193.26 L759.46,192.72 L759.51,192.19 L759.56,191.65 L759.60,191.12 L759.65,190.59 L759.70,190.05 L759.74,189.52 L759.79,188.98 L759.84,188.45 L759.88,187.91 L759.93,187.38 L759.98,186.84 L760.02,186.31 L760.07,185.77 L760.12,185.24 L760.17,184.70 L760.21,184.17 L760.26,183.64 L760.31,183.10 L760.36,182.57 L760.40,182.03 L760.45,181.50 L760.50,180.96 L760.55,180.43 L760.59,179.89 L760.64,179.36 L760.69,178.83 L760.74,178.29 L760.79,177.76 L760.83,177.22 L760.88,176.69 L760.93,176.15 L760.98,175.62 L761.02,175.08 L761.07,174.55 L761.12,174.02 L761.17,173.48 L761.22,172.95 L761.27,172.41 L761.31,171.88 L761.36,171.34 L761.41,170.81 L761.46,170.28 L761.51,169.74 L761.55,169.21 L761.60,168.67 L761.65,168.14 L761.70,167.61 L761.75,167.07 L761.80,166.54 L761.84,166.00 L761.89,165.47 L761.94,164.94 L761.99,164.40 L762.04,163.87 L762.09,163.33 L762.13,162.80 L762.18,162.27 L762.23,161.73 L762.28,161.20 L762.33,160.66 L762.37,160.13 L762.42,159.60 L762.47,159.06 L762.52,158.53 L762.57,158.00 L762.61,157.46 L762.66,156.93 L762.71,156.39 L762.76,155.86 L762.81,155.33 L762.85,154.79 L762.90,154.26 L762.95,153.73 L763.00,153.19 L763.04,152.66 L763.09,152.13 L763.14,151.59 L763.19,151.06 L763.23,150.53 L763.28,149.99 L763.33,149.46 L763.38,148.93 L763.42,148.39 L763.47,147.86 L763.52,147.33 L763.57,146.79 L763.61,146.26 L763.66,145.73 L763.71,145.19 L763.75,144.66 L763.80,144.13 L763.85,143.59 L763.89,143.06 L763.94,142.53 L763.99,141.99 L764.03,141.46 L764.08,140.93 L764.12,140.40 L764.17,139.86 L764.22,139.33 L764.26,138.80 L764.31,138.26 L764.35,137.73 L764.40,137.20 L764.45,136.67 L764.49,136.13 L764.54,135.60 L764.58,135.07 L764.63,134.54 L764.67,134.00 L764.72,133.47 L764.76,132.94 L764.81,132.41 L764.85,131.87 L764.90,131.34 L764.94,130.81 L764.98,130.28 L765.03,129.74 L765.07,129.21 L765.12,128.68 L765.16,128.15 L765.20,127.61 L765.25,127.08 L765.29,126.55 L765.33,126.02 L765.38,125.49 L765.42,124.95 L765.46,124.42 L765.51,123.89 L765.55,123.36 L765.59,122.83 L765.63,122.29 L765.68,121.76 L765.72,121.23 L765.76,120.70 L765.80,120.17 L765.84,119.63 L765.89,119.10 L765.93,118.57 L765.97,118.04 L766.01,117.51 L766.05,116.98 L766.09,116.45 L766.13,115.91 L766.17,115.38 L766.21,114.85 L766.25,114.32 L766.29,113.79 L766.33,113.26 L766.37,112.73 L766.41,112.20 L766.45,111.66 L766.49,111.13 L766.53,110.60 L766.57,110.07 L766.61,109.54 L766.64,109.01 L766.68,108.48 L766.72,107.95 L766.76,107.42 L766.80,106.89 L766.83,106.35 L766.87,105.82 L766.91,105.29 L766.95,104.76 L766.98,104.23 L767.02,103.70 L767.05,103.17 L767.09,102.64 L767.13,102.11 L767.16,101.58 L767.20,101.05 L767.23,100.52 L767.27,99.99 L767.30,99.46 L767.34,98.93 L767.37,98.40 L767.41,97.87 L767.44,97.34 L767.47,96.81 L767.51,96.28 L767.54,95.75 L767.58,95.22 L767.61,94.69 L767.64,94.16 L767.68,93.63 L767.71,93.10 L767.74,92.57 L767.78,92.04 L767.81,91.51 L767.85,90.98 L767.88,90.45 L767.92,89.92 L767.95,89.38 L767.99,88.85 L768.03,88.32 L768.07,87.79 L768.10,87.26 L768.14,86.73 L768.18,86.20 L768.22,85.66 L768.26,85.13 L768.31,84.60 L768.35,84.07 L768.39,83.53 L768.44,83.00 L768.48,82.47 L768.53,81.93 L768.58,81.40 L768.63,80.86 L768.68,80.33 L768.73,79.79 L768.78,79.26 L768.83,78.72 L768.89,78.19 L768.95,77.65 L769.01,77.11 L769.06,76.58 L769.13,76.04 L769.19,75.50 L769.25,74.96 L769.32,74.42 L769.39,73.88 L769.46,73.34 L769.53,72.80 L769.60,72.26 L769.68,71.72 L769.75,71.18 L769.83,70.63 L769.91,70.09 L769.99,69.55 L770.08,69.00 L770.17,68.46 L770.26,67.91 L770.35,67.36 L770.44,66.82 L770.54,66.27 L770.64,65.72 L770.74,65.17 L770.84,64.62 L770.95,64.07 L771.05,63.52 L771.17,62.97 L771.28,62.42 L771.40,61.87 L771.51,61.31 L771.64,60.76 L771.76,60.20 L771.89,59.65 L772.02,59.09 L772.15,58.53 L772.29,57.98 L772.43,57.42 L772.57,56.86 L772.71,56.30 L772.86,55.73 L773.01,55.17 L773.17,54.62 L773.33,54.08 L773.50,53.56 L773.67,53.07 L773.85,52.61 L774.04,52.19 L774.24,51.82 L774.45,51.50 L774.66,51.23 L774.89,51.03 L775.12,50.89 L775.34,50.82 L775.55,50.82 L775.75,50.89 L775.93,51.03 L776.10,51.23 L776.26,51.48 L776.41,51.79 L776.54,52.14 L776.67,52.53 L776.80,52.96 L776.91,53.43 L777.02,53.91 L777.12,54.42 L777.22,54.94 L777.32,55.48 L777.41,56.02 L777.51,56.56 L777.60,57.10 L777.69,57.64 L777.78,58.18 L777.87,58.72 L777.96,59.27 L778.05,59.81 L778.14,60.35 L778.23,60.89 L778.32,61.43 L778.40,61.97 L778.49,62.51 L778.57,63.05 L778.66,63.59 L778.74,64.13 L778.82,64.67 L778.90,65.21 L778.99,65.75 L779.07,66.29 L779.15,66.83 L779.22,67.37 L779.30,67.91 L779.38,68.45 L779.46,68.99 L779.53,69.53 L779.61,70.07 L779.68,70.60 L779.76,71.14 L779.83,71.68 L779.90,72.22 L779.98,72.76 L780.05,73.30 L780.12,73.84 L780.19,74.38 L780.26,74.92 L780.33,75.45 L780.40,75.99 L780.46,76.53 L780.53,77.07 L780.60,77.61 L780.66,78.15 L780.73,78.68 L780.79,79.22 L780.86,79.76 L780.92,80.30 L780.98,80.84 L781.05,81.37 L781.11,81.91 L781.17,82.45 L781.23,82.99 L781.29,83.52 L781.35,84.06 L781.41,84.60 L781.47,85.14 L781.53,85.67 L781.58,86.21 L781.64,86.75 L781.70,87.29 L781.75,87.82 L781.81,88.36 L781.86,88.90 L781.92,89.43 L781.97,89.97 L782.02,90.51 L782.08,91.04 L782.13,91.58 L782.18,92.12 L782.23,92.65 L782.28,93.19 L782.33,93.73 L782.38,94.26 L782.43,94.80 L782.48,95.34 L782.53,95.87 L782.58,96.41 L782.63,96.94 L782.68,97.48 L782.72,98.02 L782.77,98.55 L782.81,99.09 L782.86,99.62 L782.91,100.16 L782.95,100.70 L782.99,101.23 L783.04,101.77 L783.08,102.30 L783.13,102.84 L783.17,103.37 L783.21,103.91 L783.25,104.44 L783.29,104.98 L783.34,105.52 L783.38,106.05 L783.42,106.59 L783.46,107.12 L783.50,107.66 L783.54,108.19 L783.58,108.73 L783.62,109.26 L783.66,109.80 L783.69,110.33 L783.73,110.87 L783.77,111.40 L783.81,111.94 L783.84,112.47 L783.88,113.01 L783.92,113.54 L783.95,114.08 L783.99,114.61 L784.03,115.14 L784.06,115.68 L784.10,116.21 L784.13,116.75 L784.17,117.28 L784.20,117.82 L784.23,118.35 L784.27,118.89 L784.30,119.42 L784.34,119.95 L784.37,120.49 L784.40,121.02 L784.43,121.56 L784.47,122.09 L784.50,122.62 L784.53,123.16 L784.56,123.69 L784.59,124.23 L784.63,124.76 L784.66,125.29 L784.69,125.83 L784.72,126.36 L784.75,126.90 L784.78,127.43 L784.81,127.96 L784.84,128.50 L784.87,129.03 L784.90,129.57 L784.93,130.10 L784.96,130.63 L784.99,131.17 L785.02,131.70 L785.05,132.23 L785.08,132.77 L785.11,133.30 L785.14,133.83 L785.17,134.37 L785.20,134.90 L785.23,135.43 L785.25,135.97 L785.28,136.50 L785.31,137.03 L785.34,137.57 L785.37,138.10 L785.40,138.63 L785.42,139.17 L785.45,139.70 L785.48,140.23 L785.51,140.77 L785.54,141.30 L785.57,141.83 L785.59,142.37 L785.62,142.90 L785.65,143.43 L785.68,143.97 L785.71,144.50 L785.73,145.03 L785.76,145.57 L785.79,146.10 L785.82,146.63 L785.85,147.17 L785.87,147.70 L785.90,148.23 L785.93,148.76 L785.96,149.30 L785.99,149.83 L786.01,150.36 L786.04,150.90 L786.07,151.43 L786.10,151.96 L786.13,152.50 L786.15,153.03 L786.18,153.56 L786.21,154.09 L786.24,154.63 L786.27,155.16 L786.30,155.69 L786.33,156.23 L786.35,156.76 L786.38,157.29 L786.41,157.82 L786.44,158.36 L786.47,158.89 L786.50,159.42 L786.53,159.96 L786.56,160.49 L786.59,161.02 L786.62,161.55 L786.64,162.09 L786.67,162.62 L786.70,163.15 L786.73,163.69 L786.76,164.22 L786.79,164.75 L786.82,165.28 L786.85,165.82 L786.88,166.35 L786.91,166.88 L786.94,167.41 L786.97,167.95 L787.00,168.48 L787.03,169.01 L787.06,169.55 L787.09,170.08 L787.12,170.61 L787.15,171.14 L787.18,171.68 L787.21,172.21 L787.24,172.74 L787.27,173.27 L787.30,173.81 L787.33,174.34 L787.36,174.87 L787.39,175.41 L787.42,175.94 L787.46,176.47 L787.49,177.00 L787.52,177.54 L787.55,178.07 L787.58,178.60 L787.61,179.13 L787.64,179.67 L787.67,180.20 L787.70,180.73 L787.73,181.27 L787.77,181.80 L787.80,182.33 L787.83,182.86 L787.86,183.40 L787.89,183.93 L787.92,184.46 L787.95,184.99 L787.99,185.53 L788.02,186.06 L788.05,186.59 L788.08,187.13 L788.11,187.66 L788.15,188.19 L788.18,188.72 L788.21,189.26 L788.24,189.79 L788.27,190.32 L788.31,190.85 L788.34,191.39 L788.37,191.92 L788.40,192.45 L788.44,192.99 L788.47,193.52 L788.50,194.05 L788.53,194.58 L788.57,195.12 L788.60,195.65 L788.63,196.18 L788.66,196.72 L788.70,197.25 L788.73,197.78 L788.76,198.31 L788.80,198.85 L788.83,199.38 L788.86,199.91 L788.90,200.45 L788.93,200.98 L788.96,201.51 L789.00,202.04 L789.03,202.58 L789.06,203.11 L789.10,203.64 L789.13,204.18 L789.16,204.71 L789.20,205.24 L789.23,205.77 L789.27,206.31 L789.30,206.84 L789.33,207.37 L789.37,207.91 L789.40,208.44 L789.44,208.97 L789.47,209.51 L789.50,210.04 L789.54,210.57 L789.57,211.10 L789.61,211.64 L789.64,212.17 L789.68,212.70 L789.71,213.24 L789.75,213.77 L789.78,214.30 L789.82,214.84 L789.85,215.37 L789.89,215.90 L789.92,216.44 L789.96,216.97 L789.99,217.50 L790.03,218.04 L790.06,218.57 L790.10,219.10 L790.13,219.64 L790.17,220.17 L790.20,220.70 L790.24,221.24 L790.27,221.77 L790.31,222.30 L790.35,222.84 L790.38,223.37 L790.42,223.90 L790.45,224.44 L790.49,224.97 L790.52,225.50 L790.56,226.04 L790.60,226.57 L790.63,227.10 L790.67,227.64 L790.71,228.17 L790.74,228.71 L790.78,229.24 L790.82,229.77 L790.85,230.31 L790.89,230.84 L790.93,231.37 L790.96,231.91 L791.00,232.44 L791.04,232.97 L791.07,233.51 L791.11,234.04 L791.15,234.58 L791.18,235.11 L791.22,235.64 L791.26,236.18 L791.30,236.71 L791.33,237.25 L791.37,237.78 L791.41,238.31 L791.45,238.85 L791.48,239.38 L791.52,239.92 L791.56,240.45 L791.60,240.98 L791.63,241.52 L791.67,242.05 L791.71,242.59 L791.75,243.12 L791.79,243.65 L791.82,244.19 L791.86,244.72 L791.90,245.26 L791.94,245.79 L791.98,246.33 L792.02,246.86 L792.05,247.39 L792.09,247.93 L792.13,248.46 L792.17,249.00 L792.21,249.53 L792.25,250.07 L792.29,250.60 L792.33,251.14 L792.37,251.67 L792.40,252.21 L792.44,252.74 L792.48,253.27 L792.52,253.81 L792.56,254.34 L792.60,254.88 L792.64,255.41 L792.68,255.95 L792.72,256.48 L792.76,257.02 L792.80,257.55 L792.84,258.09 L792.88,258.62 L792.92,259.16 L792.96,259.69 L793.00,260.23 L793.04,260.76 L793.08,261.30 L793.12,261.83 L793.16,262.37 L793.20,262.90 L793.24,263.44 L793.28,263.97 L793.32,264.51 L793.36,265.05 L793.40,265.58 L793.44,266.12 L793.48,266.65 L793.53,267.19 L793.57,267.72 L793.61,268.26 L793.65,268.79 L793.69,269.33 L793.73,269.86 L793.77,270.40 L793.81,270.94 L793.86,271.47 L793.90,272.01 L793.94,272.54 L793.98,273.08 L794.02,273.62 L794.06,274.15 L794.11,274.69 L794.15,275.22 L794.19,275.76 L794.23,276.30 L794.27,276.83 L794.32,277.37 L794.36,277.90 L794.40,278.44 L794.44,278.98 L794.48,279.51 L794.53,280.05 L794.57,280.59 L794.61,281.12 L794.66,281.66 L794.70,282.19 L794.74,282.73 L794.78,283.27 L794.83,283.80 L794.87,284.34 L794.91,284.88 L794.96,285.41 L795.00,285.95 L795.04,286.49 L795.09,287.02 L795.13,287.56 L795.17,288.10 L795.22,288.64 L795.26,289.17 L795.30,289.71 L795.35,290.25 L795.39,290.78 L795.43,291.32 L795.48,291.86 L795.52,292.40 L795.57,292.93 L795.61,293.47 L795.66,294.01 L795.70,294.54 L795.74,295.08 L795.79,295.62 L795.83,296.16 L795.88,296.69 L795.92,297.23 L795.97,297.77 L796.01,298.31 L796.06,298.85 L796.10,299.38 L796.15,299.92 L796.19,300.46 L796.24,301.00 L796.28,301.54 L796.33,302.07 L796.37,302.61 L796.42,303.15 L796.46,303.69 L796.51,304.23 L796.55,304.76 L796.60,305.30 L796.65,305.84 L796.69,306.38 L796.74,306.92 L796.79,307.46 L796.83,307.99 L796.88,308.53 L796.93,309.07 L796.98,309.61 L797.03,310.14 L797.08,310.68 L797.13,311.22 L797.18,311.75 L797.24,312.29 L797.29,312.83 L797.35,313.36 L797.40,313.90 L797.46,314.43 L797.52,314.97 L797.58,315.50 L797.64,316.03 L797.70,316.57 L797.77,317.10 L797.84,317.63 L797.90,318.16 L797.97,318.69 L798.04,319.22 L798.12,319.75 L798.19,320.28 L798.27,320.81 L798.35,321.34 L798.43,321.87 L798.51,322.39 L798.60,322.92 L798.69,323.44 L798.78,323.96 L798.87,324.49 L798.96,325.01 L799.06,325.53 L799.16,326.05 L799.27,326.57 L799.37,327.09 L799.48,327.60 L799.59,328.12 L799.70,328.63 L799.82,329.15 L799.94,329.66 L800.06,330.17 L800.19,330.68 L800.32,331.19 L800.45,331.70 L800.59,332.21 L800.73,332.71 L800.87,333.22 L801.02,333.72 L801.17,334.22 L801.32,334.72 L801.48,335.22 L801.64,335.72 L801.80,336.21 L801.97,336.71 L802.15,337.20 L802.32,337.69 L802.50,338.18 L802.69,338.67 L802.88,339.16 L803.07,339.65 L803.27,340.13 L803.47,340.61 L803.68,341.09 L803.89,341.57 L804.11,342.05 L804.33,342.52 L804.55,343.00 L804.78,343.47 L805.02,343.94 L805.26,344.41 L805.50,344.87 L805.75,345.34 L806.01,345.80 L806.27,346.26 L806.53,346.72 L806.80,347.18 L807.08,347.63 L807.36,348.08 L807.65,348.53 L807.94,348.98 L808.24,349.43 L808.54,349.87 L808.85,350.31 L809.16,350.75 L809.49,351.19 L809.81,351.63 L810.15,352.06 L810.48,352.49 L810.83,352.92 L811.18,353.10 L811.54,353.10" fill="none" stroke="#2ca02c" stroke-width="2.5" stroke-linejoin="round" stroke-linecap="butt"/>
</g>
<rect x="1046.4" y="42.5" width="143.6" height="94" rx="4" fill="#fff" fill-opacity="0.8" stroke="#cccccc" stroke-width="1.4"/>
<text x="1094.65" y="60.00" font-size="16.0" textLength="46.96" lengthAdjust="spacingAndGlyphs" fill="#1f1f1f" stroke="#1f1f1f" stroke-width="0.3">Group</text>
<line x1="1051.00" y1="77.20" x2="1084.10" y2="77.20" stroke="#1f77b4" stroke-width="2.5" />
<text x="1095.37" y="82.70" font-size="16.0" textLength="88.78" lengthAdjust="spacingAndGlyphs" fill="#1f1f1f" stroke="#1f1f1f" stroke-width="0.3">ArraySignal</text>
<line x1="1051.00" y1="99.75" x2="1084.10" y2="99.75" stroke="#ff7f0e" stroke-width="2.5" />
<text x="1095.37" y="105.25" font-size="16.0" textLength="71.07" lengthAdjust="spacingAndGlyphs" fill="#1f1f1f" stroke="#1f1f1f" stroke-width="0.3">AlleleCall</text>
<line x1="1051.00" y1="122.30" x2="1084.10" y2="122.30" stroke="#2ca02c" stroke-width="2.5" />
<text x="1093.94" y="127.80" font-size="16.0" textLength="61.40" lengthAdjust="spacingAndGlyphs" fill="#1f1f1f" stroke="#1f1f1f" stroke-width="0.3">Dummy</text>
<rect x="662.8" y="34.9" width="534.6000000000001" height="318.20000000000005" fill="none" stroke="#222" stroke-width="1.5"/>
<line x1="659.20" y1="353.10" x2="662.80" y2="353.10" stroke="#222" stroke-width="1.6" />
<text x="646.56" y="358.70" font-size="15.6" textLength="9.07" lengthAdjust="spacingAndGlyphs" fill="#1f1f1f" stroke="#1f1f1f" stroke-width="0.3">0</text>
<line x1="659.20" y1="283.50" x2="662.80" y2="283.50" stroke="#222" stroke-width="1.6" />
<text x="646.54" y="289.10" font-size="15.6" textLength="9.15" lengthAdjust="spacingAndGlyphs" fill="#1f1f1f" stroke="#1f1f1f" stroke-width="0.3">5</text>
<line x1="659.20" y1="213.90" x2="662.80" y2="213.90" stroke="#222" stroke-width="1.6" />
<text x="636.06" y="219.50" font-size="15.6" textLength="19.63" lengthAdjust="spacingAndGlyphs" fill="#1f1f1f" stroke="#1f1f1f" stroke-width="0.3">10</text>
<line x1="659.20" y1="144.30" x2="662.80" y2="144.30" stroke="#222" stroke-width="1.6" />
<text x="636.05" y="149.90" font-size="15.6" textLength="19.69" lengthAdjust="spacingAndGlyphs" fill="#1f1f1f" stroke="#1f1f1f" stroke-width="0.3">15</text>
<line x1="659.20" y1="74.70" x2="662.80" y2="74.70" stroke="#222" stroke-width="1.6" />
<text x="636.53" y="80.30" font-size="15.6" textLength="19.14" lengthAdjust="spacingAndGlyphs" fill="#1f1f1f" stroke="#1f1f1f" stroke-width="0.3">20</text>
<line x1="697.55" y1="353.10" x2="697.55" y2="356.70" stroke="#222" stroke-width="1.6" />
<line x1="781.00" y1="353.10" x2="781.00" y2="356.70" stroke="#222" stroke-width="1.6" />
<text x="769.13" y="371.80" font-size="16.0" textLength="23.73" lengthAdjust="spacingAndGlyphs" fill="#1f1f1f" stroke="#1f1f1f" stroke-width="0.3">0.0</text>
<line x1="864.45" y1="353.10" x2="864.45" y2="356.70" stroke="#222" stroke-width="1.6" />
<line x1="947.90" y1="353.10" x2="947.90" y2="356.70" stroke="#222" stroke-width="1.6" />
<text x="936.03" y="371.80" font-size="16.0" textLength="23.94" lengthAdjust="spacingAndGlyphs" fill="#1f1f1f" stroke="#1f1f1f" stroke-width="0.3">0.2</text>
<line x1="1031.35" y1="353.10" x2="1031.35" y2="356.70" stroke="#222" stroke-width="1.6" />
<line x1="1114.80" y1="353.10" x2="1114.80" y2="356.70" stroke="#222" stroke-width="1.6" />
<text x="1102.94" y="371.80" font-size="16.0" textLength="23.56" lengthAdjust="spacingAndGlyphs" fill="#1f1f1f" stroke="#1f1f1f" stroke-width="0.3">0.4</text>
<text x="856.45" y="393.70" font-size="17.6" textLength="106.29" lengthAdjust="spacingAndGlyphs" fill="#1f1f1f" stroke="#1f1f1f" stroke-width="0.3">Model Score</text>
<text x="968.87" y="393.70" font-size="17.6" textLength="4.71" lengthAdjust="spacingAndGlyphs" fill="#1f1f1f" stroke="#1f1f1f" stroke-width="0.3">(</text>
<text x="975.14" y="393.70" font-size="17.6" font-style="italic" textLength="10.82" lengthAdjust="spacingAndGlyphs" fill="#1f1f1f" stroke="#1f1f1f" stroke-width="0.3">R</text>
<text x="988.33" y="387.20" font-size="12" textLength="7.45" lengthAdjust="spacingAndGlyphs" fill="#1f1f1f" stroke="#1f1f1f" stroke-width="0.3">2</text>
<text x="997.72" y="393.70" font-size="17.6" textLength="4.65" lengthAdjust="spacingAndGlyphs" fill="#1f1f1f" stroke="#1f1f1f" stroke-width="0.3">)</text>
<text transform="translate(629.20,0) rotate(-90)" x="-211.62" y="0" font-size="17.6" textLength="35.56" lengthAdjust="spacingAndGlyphs" fill="#1f1f1f" stroke="#1f1f1f" stroke-width="0.3">KDE</text>
<rect x="266.04" y="569.70" width="55.67" height="121.68" fill="#3274a1"/>
<rect x="321.71" y="569.70" width="55.67" height="7.02" fill="#e1812c"/>
<rect x="377.38" y="548.27" width="55.67" height="21.43" fill="#3a923a"/>
<rect x="433.06" y="569.70" width="55.67" height="13.01" fill="#c03d3e"/>
<rect x="544.40" y="496.22" width="55.67" height="73.48" fill="#3274a1"/>
<rect x="600.08" y="521.03" width="55.67" height="48.67" fill="#e1812c"/>
<rect x="655.75" y="511.67" width="55.67" height="58.03" fill="#3a923a"/>
<rect x="711.42" y="506.99" width="55.67" height="62.71" fill="#c03d3e"/>
<rect x="822.77" y="569.70" width="55.67" height="8.33" fill="#3274a1"/>
<rect x="878.44" y="536.94" width="55.67" height="32.76" fill="#e1812c"/>
<rect x="934.12" y="501.84" width="55.67" height="67.86" fill="#3a923a"/>
<rect x="989.79" y="501.37" width="55.67" height="68.33" fill="#c03d3e"/>
<line x1="293.87" y1="821.48" x2="293.87" y2="561.00" stroke="#262626" stroke-width="2.1" />
<line x1="266.04" y1="821.48" x2="321.71" y2="821.48" stroke="#555" stroke-width="1.8" />
<line x1="266.04" y1="561.00" x2="321.71" y2="561.00" stroke="#555" stroke-width="1.8" />
<line x1="349.55" y1="627.73" x2="349.55" y2="525.24" stroke="#262626" stroke-width="2.1" />
<line x1="321.71" y1="627.73" x2="377.38" y2="627.73" stroke="#555" stroke-width="1.8" />
<line x1="321.71" y1="525.24" x2="377.38" y2="525.24" stroke="#555" stroke-width="1.8" />
<line x1="405.22" y1="580.37" x2="405.22" y2="516.82" stroke="#262626" stroke-width="2.1" />
<line x1="377.38" y1="580.37" x2="433.06" y2="580.37" stroke="#555" stroke-width="1.8" />
<line x1="377.38" y1="516.82" x2="433.06" y2="516.82" stroke="#555" stroke-width="1.8" />
<line x1="460.89" y1="611.54" x2="460.89" y2="553.98" stroke="#262626" stroke-width="2.1" />
<line x1="433.06" y1="611.54" x2="488.73" y2="611.54" stroke="#555" stroke-width="1.8" />
<line x1="433.06" y1="553.98" x2="488.73" y2="553.98" stroke="#555" stroke-width="1.8" />
<line x1="572.24" y1="546.49" x2="572.24" y2="445.21" stroke="#262626" stroke-width="2.1" />
<line x1="544.40" y1="546.49" x2="600.08" y2="546.49" stroke="#555" stroke-width="1.8" />
<line x1="544.40" y1="445.21" x2="600.08" y2="445.21" stroke="#555" stroke-width="1.8" />
<line x1="627.91" y1="559.97" x2="627.91" y2="482.65" stroke="#262626" stroke-width="2.1" />
<line x1="600.08" y1="559.97" x2="655.75" y2="559.97" stroke="#555" stroke-width="1.8" />
<line x1="600.08" y1="482.65" x2="655.75" y2="482.65" stroke="#555" stroke-width="1.8" />
<line x1="683.59" y1="543.02" x2="683.59" y2="479.84" stroke="#262626" stroke-width="2.1" />
<line x1="655.75" y1="543.02" x2="711.42" y2="543.02" stroke="#555" stroke-width="1.8" />
<line x1="655.75" y1="479.84" x2="711.42" y2="479.84" stroke="#555" stroke-width="1.8" />
<line x1="739.26" y1="530.39" x2="739.26" y2="482.65" stroke="#262626" stroke-width="2.1" />
<line x1="711.42" y1="530.39" x2="767.10" y2="530.39" stroke="#555" stroke-width="1.8" />
<line x1="711.42" y1="482.65" x2="767.10" y2="482.65" stroke="#555" stroke-width="1.8" />
<line x1="850.61" y1="631.38" x2="850.61" y2="524.77" stroke="#262626" stroke-width="2.1" />
<line x1="822.77" y1="631.38" x2="878.44" y2="631.38" stroke="#555" stroke-width="1.8" />
<line x1="822.77" y1="524.77" x2="878.44" y2="524.77" stroke="#555" stroke-width="1.8" />
<line x1="906.28" y1="570.17" x2="906.28" y2="504.18" stroke="#262626" stroke-width="2.1" />
<line x1="878.44" y1="570.17" x2="934.12" y2="570.17" stroke="#555" stroke-width="1.8" />
<line x1="878.44" y1="504.18" x2="934.12" y2="504.18" stroke="#555" stroke-width="1.8" />
<line x1="961.95" y1="526.64" x2="961.95" y2="477.04" stroke="#262626" stroke-width="2.1" />
<line x1="934.12" y1="526.64" x2="989.79" y2="526.64" stroke="#555" stroke-width="1.8" />
<line x1="934.12" y1="477.04" x2="989.79" y2="477.04" stroke="#555" stroke-width="1.8" />
<line x1="1017.63" y1="521.03" x2="1017.63" y2="481.72" stroke="#262626" stroke-width="2.1" />
<line x1="989.79" y1="521.03" x2="1045.46" y2="521.03" stroke="#555" stroke-width="1.8" />
<line x1="989.79" y1="481.72" x2="1045.46" y2="481.72" stroke="#555" stroke-width="1.8" />
<rect x="238.2" y="426.2" width="835.0999999999999" height="414.40000000000003" fill="none" stroke="#3a3a3a" stroke-width="1.8"/>
<line x1="233.80" y1="803.70" x2="238.20" y2="803.70" stroke="#3a3a3a" stroke-width="1.8" />
<text x="200.08" y="808.70" font-size="13.3" textLength="28.62" lengthAdjust="spacingAndGlyphs" fill="#1f1f1f" stroke="#1f1f1f" stroke-width="0.3">−2.5</text>
<line x1="233.80" y1="756.90" x2="238.20" y2="756.90" stroke="#3a3a3a" stroke-width="1.8" />
<text x="200.09" y="761.90" font-size="13.3" textLength="28.58" lengthAdjust="spacingAndGlyphs" fill="#1f1f1f" stroke="#1f1f1f" stroke-width="0.3">−2.0</text>
<line x1="233.80" y1="710.10" x2="238.20" y2="710.10" stroke="#3a3a3a" stroke-width="1.8" />
<text x="200.08" y="715.10" font-size="13.3" textLength="28.62" lengthAdjust="spacingAndGlyphs" fill="#1f1f1f" stroke="#1f1f1f" stroke-width="0.3">−1.5</text>
<line x1="233.80" y1="663.30" x2="238.20" y2="663.30" stroke="#3a3a3a" stroke-width="1.8" />
<text x="200.09" y="668.30" font-size="13.3" textLength="28.58" lengthAdjust="spacingAndGlyphs" fill="#1f1f1f" stroke="#1f1f1f" stroke-width="0.3">−1.0</text>
<line x1="233.80" y1="616.50" x2="238.20" y2="616.50" stroke="#3a3a3a" stroke-width="1.8" />
<text x="200.08" y="621.50" font-size="13.3" textLength="28.62" lengthAdjust="spacingAndGlyphs" fill="#1f1f1f" stroke="#1f1f1f" stroke-width="0.3">−0.5</text>
<line x1="233.80" y1="569.70" x2="238.20" y2="569.70" stroke="#3a3a3a" stroke-width="1.8" />
<text x="210.70" y="574.70" font-size="13.3" textLength="17.91" lengthAdjust="spacingAndGlyphs" fill="#1f1f1f" stroke="#1f1f1f" stroke-width="0.3">0.0</text>
<line x1="233.80" y1="522.90" x2="238.20" y2="522.90" stroke="#3a3a3a" stroke-width="1.8" />
<text x="210.70" y="527.90" font-size="13.3" textLength="17.95" lengthAdjust="spacingAndGlyphs" fill="#1f1f1f" stroke="#1f1f1f" stroke-width="0.3">0.5</text>
<line x1="233.80" y1="476.10" x2="238.20" y2="476.10" stroke="#3a3a3a" stroke-width="1.8" />
<text x="210.19" y="481.10" font-size="13.3" textLength="18.43" lengthAdjust="spacingAndGlyphs" fill="#1f1f1f" stroke="#1f1f1f" stroke-width="0.3">1.0</text>
<line x1="233.80" y1="429.30" x2="238.20" y2="429.30" stroke="#3a3a3a" stroke-width="1.8" />
<text x="210.19" y="434.30" font-size="13.3" textLength="18.47" lengthAdjust="spacingAndGlyphs" fill="#1f1f1f" stroke="#1f1f1f" stroke-width="0.3">1.5</text>
<line x1="377.38" y1="840.60" x2="377.38" y2="845.00" stroke="#3a3a3a" stroke-width="1.8" />
<text x="335.34" y="866.30" font-size="15" textLength="98.33" lengthAdjust="spacingAndGlyphs" fill="#1f1f1f" stroke="#1f1f1f" stroke-width="0.12">dunedinPACE</text>
<line x1="655.75" y1="840.60" x2="655.75" y2="845.00" stroke="#3a3a3a" stroke-width="1.8" />
<text x="607.44" y="866.30" font-size="15" textLength="106.65" lengthAdjust="spacingAndGlyphs" fill="#1f1f1f" stroke="#1f1f1f" stroke-width="0.12">Horvath (2013)</text>
<line x1="934.12" y1="840.60" x2="934.12" y2="845.00" stroke="#3a3a3a" stroke-width="1.8" />
<text x="897.98" y="866.30" font-size="15" textLength="75.13" lengthAdjust="spacingAndGlyphs" fill="#1f1f1f" stroke="#1f1f1f" stroke-width="0.12">PhenoAge</text>
<text transform="translate(187.20,0) rotate(-90)" x="-663.36" y="0" font-size="18.5" textLength="68.06" lengthAdjust="spacingAndGlyphs" fill="#1f1f1f" stroke="#1f1f1f" stroke-width="0.12">Log(OR)</text>
<rect x="951" y="739.80" width="25" height="8.6" fill="#3274a1"/>
<text x="984.86" y="749.10" font-size="14" textLength="75.00" lengthAdjust="spacingAndGlyphs" fill="#1f1f1f" stroke="#1f1f1f" stroke-width="0.12">Direct aQTL</text>
<rect x="951" y="758.40" width="25" height="8.6" fill="#e1812c"/>
<text x="984.89" y="767.70" font-size="14" textLength="66.81" lengthAdjust="spacingAndGlyphs" fill="#1f1f1f" stroke="#1f1f1f" stroke-width="0.12">Near aQTL</text>
<rect x="951" y="777.00" width="25" height="8.6" fill="#3a923a"/>
<text x="984.83" y="786.30" font-size="14" textLength="78.33" lengthAdjust="spacingAndGlyphs" fill="#1f1f1f" stroke="#1f1f1f" stroke-width="0.12">Direct aCpG</text>
<rect x="951" y="795.60" width="25" height="8.6" fill="#c03d3e"/>
<text x="984.87" y="804.90" font-size="14" textLength="69.92" lengthAdjust="spacingAndGlyphs" fill="#1f1f1f" stroke="#1f1f1f" stroke-width="0.12">Near aCpG</text>
<text x="40.97" y="15.30" font-size="19.5" textLength="11.47" lengthAdjust="spacingAndGlyphs" fill="#1f1f1f">A</text>
<text x="600.89" y="15.50" font-size="19.5" textLength="12.28" lengthAdjust="spacingAndGlyphs" fill="#1f1f1f">B</text>
<text x="151.64" y="422.00" font-size="19.5" textLength="12.20" lengthAdjust="spacingAndGlyphs" fill="#1f1f1f">C</text>
</svg>
</body></html>
